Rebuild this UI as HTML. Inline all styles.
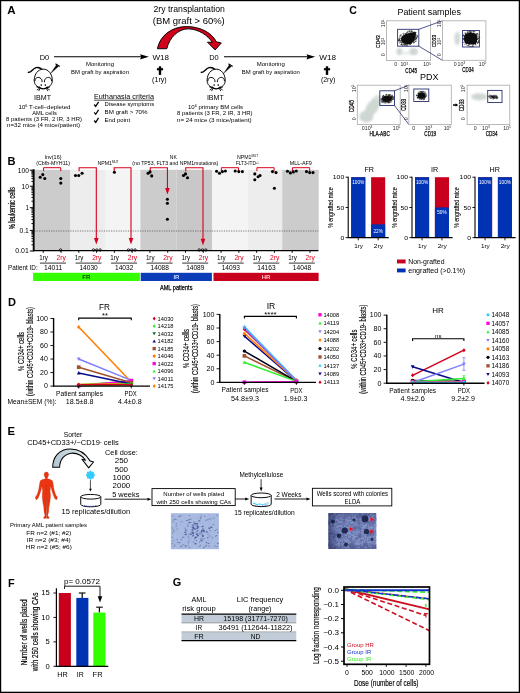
<!DOCTYPE html>
<html><head><meta charset="utf-8"><title>Figure</title>
<style>
html,body{margin:0;padding:0;background:#fff;}
body{width:520px;height:693px;overflow:hidden;font-family:"Liberation Sans", sans-serif;}
svg{display:block;font-family:"Liberation Sans", sans-serif;opacity:0.999;}
svg text{font-family:"Liberation Sans", sans-serif;}
</style></head><body>
<svg width="520" height="693" viewBox="0 0 520 693">
<rect x="0" y="0" width="520" height="693" fill="#fff"/>
<g id="panelA">
<text transform="translate(11.50,13.87) scale(1.02,1)" x="0" y="0" font-size="11.3" text-anchor="middle" fill="#000" font-weight="bold" >A</text>
<text x="189.20" y="12.02" font-size="8.4" text-anchor="middle" fill="#000" font-weight="normal"  textLength="71.50" lengthAdjust="spacingAndGlyphs">2ry transplantation</text>
<text x="188.80" y="23.52" font-size="8.4" text-anchor="middle" fill="#000" font-weight="normal"  textLength="72.00" lengthAdjust="spacingAndGlyphs">(BM graft &gt; 60%)</text>
<text x="44.40" y="59.64" font-size="7.6" text-anchor="middle" fill="#000" font-weight="normal"  textLength="9.50" lengthAdjust="spacingAndGlyphs">D0</text>
<line x1="54.00" y1="56.80" x2="143.00" y2="56.80" stroke="#000" stroke-width="1.1" />
<path d="M148.8,56.8 L140.0,54.2 L141.2,56.8 L140.0,59.4 Z" fill="#000" stroke="none" stroke-width="1" />
<text x="160.70" y="59.64" font-size="7.6" text-anchor="middle" fill="#000" font-weight="normal"  textLength="16.50" lengthAdjust="spacingAndGlyphs">W18</text>
<text x="100.00" y="66.28" font-size="5.5" text-anchor="middle" fill="#000" font-weight="normal"  textLength="28.00" lengthAdjust="spacingAndGlyphs">Monitoring</text>
<text x="100.00" y="73.58" font-size="5.5" text-anchor="middle" fill="#000" font-weight="normal"  textLength="58.00" lengthAdjust="spacingAndGlyphs">BM graft by aspiration</text>
<rect x="158.80" y="66.30" width="2.40" height="8.60" fill="#000" stroke="none" stroke-width="1" />
<rect x="156.90" y="68.20" width="6.20" height="2.10" fill="#000" stroke="none" stroke-width="1" />
<text x="159.40" y="82.42" font-size="7.0" text-anchor="middle" fill="#000" font-weight="normal"  textLength="14.60" lengthAdjust="spacingAndGlyphs">(1ry)</text>
<text x="214.00" y="59.64" font-size="7.6" text-anchor="middle" fill="#000" font-weight="normal"  textLength="9.50" lengthAdjust="spacingAndGlyphs">D0</text>
<line x1="224.00" y1="56.80" x2="310.00" y2="56.80" stroke="#000" stroke-width="1.1" />
<path d="M315.2,56.8 L306.4,54.2 L307.6,56.8 L306.4,59.4 Z" fill="#000" stroke="none" stroke-width="1" />
<text x="327.60" y="59.64" font-size="7.6" text-anchor="middle" fill="#000" font-weight="normal"  textLength="16.80" lengthAdjust="spacingAndGlyphs">W18</text>
<text x="270.80" y="66.28" font-size="5.5" text-anchor="middle" fill="#000" font-weight="normal"  textLength="28.00" lengthAdjust="spacingAndGlyphs">Monitoring</text>
<text x="270.80" y="73.58" font-size="5.5" text-anchor="middle" fill="#000" font-weight="normal"  textLength="58.00" lengthAdjust="spacingAndGlyphs">BM graft by aspiration</text>
<rect x="325.80" y="66.30" width="2.40" height="8.60" fill="#000" stroke="none" stroke-width="1" />
<rect x="323.90" y="68.20" width="6.20" height="2.10" fill="#000" stroke="none" stroke-width="1" />
<text x="328.10" y="82.32" font-size="7.0" text-anchor="middle" fill="#000" font-weight="normal"  textLength="14.40" lengthAdjust="spacingAndGlyphs">(2ry)</text>
<g transform="translate(145,20) scale(0.17307)">
<path d="M72,166 C84,96 150,38 240,38 C322,38 388,76 412,126 L441,133 L405,173 L361,128 L389,129 C362,88 312,54 250,51 C192,52 142,100 126,166 Z" fill="#d0021b" stroke="#000" stroke-width="5.5" stroke-linejoin="round"/>
</g>
<g transform="translate(25,55) scale(0.09615)" fill="none" stroke="#000" stroke-width="10" stroke-linecap="round" stroke-linejoin="round">
<path d="M35,180 C62,188 80,142 115,131 C142,124 162,136 178,152" stroke-width="15"/>
<path d="M146,336 C108,322 95,295 96,258 C98,200 135,147 190,147 C245,147 282,200 284,258 C285,295 272,322 234,336" fill="#fff"/>
<path d="M104,272 C102,240 130,224 156,238 C174,248 180,264 177,282" stroke-linecap="butt"/>
<path d="M276,272 C278,240 250,224 224,238 C206,248 200,264 203,282" stroke-linecap="butt"/>
<circle cx="169" cy="313" r="8.5" fill="#000" stroke="none"/>
<circle cx="211" cy="313" r="8.5" fill="#000" stroke="none"/>
<path d="M150,334 C165,358 215,358 230,334" stroke-width="13"/>
<path d="M150,342 L122,332 M150,346 L126,362 M156,350 L144,372 M230,342 L258,332 M230,346 L254,362 M224,350 L236,372" stroke-width="9"/>
<path d="M266,192 L328,101 L349,116 Z" fill="#000" stroke-width="3"/>
<path d="M320,93 L359,116" stroke-width="11"/>
</g>
<g transform="translate(197.9,55) scale(0.09615)" fill="none" stroke="#000" stroke-width="10" stroke-linecap="round" stroke-linejoin="round">
<path d="M35,180 C62,188 80,142 115,131 C142,124 162,136 178,152" stroke-width="15"/>
<path d="M146,336 C108,322 95,295 96,258 C98,200 135,147 190,147 C245,147 282,200 284,258 C285,295 272,322 234,336" fill="#fff"/>
<path d="M104,272 C102,240 130,224 156,238 C174,248 180,264 177,282" stroke-linecap="butt"/>
<path d="M276,272 C278,240 250,224 224,238 C206,248 200,264 203,282" stroke-linecap="butt"/>
<circle cx="169" cy="313" r="8.5" fill="#000" stroke="none"/>
<circle cx="211" cy="313" r="8.5" fill="#000" stroke="none"/>
<path d="M150,334 C165,358 215,358 230,334" stroke-width="13"/>
<path d="M150,342 L122,332 M150,346 L126,362 M156,350 L144,372 M230,342 L258,332 M230,346 L254,362 M224,350 L236,372" stroke-width="9"/>
<path d="M266,192 L328,101 L349,116 Z" fill="#000" stroke-width="3"/>
<path d="M320,93 L359,116" stroke-width="11"/>
</g>
<text x="42.50" y="99.52" font-size="7" text-anchor="middle" fill="#000" font-weight="normal"  textLength="17.00" lengthAdjust="spacingAndGlyphs">IBMT</text>
<text x="44.50" y="108.98" font-size="5.5" text-anchor="middle" fill="#000" font-weight="normal"  textLength="52.00" lengthAdjust="spacingAndGlyphs">10<tspan font-size="3.4" dy="-2.2">6</tspan><tspan dy="2.2"> T-cell&#8211;depleted</tspan></text>
<text x="44.50" y="115.28" font-size="5.5" text-anchor="middle" fill="#000" font-weight="normal"  textLength="24.50" lengthAdjust="spacingAndGlyphs">AML cells</text>
<text x="44.00" y="121.28" font-size="5.5" text-anchor="middle" fill="#000" font-weight="normal"  textLength="76.00" lengthAdjust="spacingAndGlyphs">8 patients (3 FR, 2 IR, 3 HR)</text>
<text x="43.50" y="127.18" font-size="5.5" text-anchor="middle" fill="#000" font-weight="normal"  textLength="73.00" lengthAdjust="spacingAndGlyphs">n=32 mice (4 mice/patient)</text>
<text x="215.40" y="99.52" font-size="7" text-anchor="middle" fill="#000" font-weight="normal"  textLength="17.00" lengthAdjust="spacingAndGlyphs">IBMT</text>
<text x="215.50" y="108.98" font-size="5.5" text-anchor="middle" fill="#000" font-weight="normal"  textLength="55.00" lengthAdjust="spacingAndGlyphs">10<tspan font-size="3.4" dy="-2.2">6</tspan><tspan dy="2.2"> primary BM cells</tspan></text>
<text x="214.80" y="115.08" font-size="5.5" text-anchor="middle" fill="#000" font-weight="normal"  textLength="75.50" lengthAdjust="spacingAndGlyphs">8 patients (3 FR, 2 IR, 3 HR)</text>
<text x="214.30" y="121.78" font-size="5.5" text-anchor="middle" fill="#000" font-weight="normal"  textLength="74.50" lengthAdjust="spacingAndGlyphs">n= 24 mice (3 mice/patient)</text>
<text x="124.00" y="98.68" font-size="6.9" text-anchor="middle" fill="#000" font-weight="normal"  textLength="60.00" lengthAdjust="spacingAndGlyphs">Euthanasia criteria</text>
<line x1="94.00" y1="100.20" x2="154.00" y2="100.20" stroke="#000" stroke-width="0.7" />
<path d="M94.2,104.5 l1.5,1.9 l2.9,-4.5" fill="none" stroke="#000" stroke-width="1.25" />
<text x="104.60" y="106.28" font-size="5.5" text-anchor="start" fill="#000" font-weight="normal"  textLength="49.50" lengthAdjust="spacingAndGlyphs">Disease symptoms</text>
<path d="M94.2,112.4 l1.5,1.9 l2.9,-4.5" fill="none" stroke="#000" stroke-width="1.25" />
<text x="104.60" y="114.18" font-size="5.5" text-anchor="start" fill="#000" font-weight="normal"  textLength="43.00" lengthAdjust="spacingAndGlyphs">BM graft &gt; 70%</text>
<path d="M94.2,120.5 l1.5,1.9 l2.9,-4.5" fill="none" stroke="#000" stroke-width="1.25" />
<text x="104.60" y="122.28" font-size="5.5" text-anchor="start" fill="#000" font-weight="normal"  textLength="25.50" lengthAdjust="spacingAndGlyphs">End point</text>
</g>
<g id="panelB">
<text transform="translate(11.50,164.97) scale(0.98,1)" x="0" y="0" font-size="11.3" text-anchor="middle" fill="#000" font-weight="bold" >B</text>
<rect x="34.40" y="169.80" width="36.05" height="80.80" fill="#cccccc" stroke="none" stroke-width="1" />
<rect x="70.40" y="169.80" width="35.35" height="80.80" fill="#ededed" stroke="none" stroke-width="1" />
<rect x="105.70" y="169.80" width="34.75" height="80.80" fill="#f4f4f4" stroke="none" stroke-width="1" />
<rect x="140.40" y="169.80" width="36.25" height="80.80" fill="#cccccc" stroke="none" stroke-width="1" />
<rect x="176.60" y="169.80" width="35.65" height="80.80" fill="#c8c8c8" stroke="none" stroke-width="1" />
<rect x="212.20" y="169.80" width="35.45" height="80.80" fill="#f4f4f4" stroke="none" stroke-width="1" />
<rect x="247.60" y="169.80" width="34.65" height="80.80" fill="#ededed" stroke="none" stroke-width="1" />
<rect x="282.20" y="169.80" width="36.55" height="80.80" fill="#cccccc" stroke="none" stroke-width="1" />
<line x1="34.30" y1="231.00" x2="318.40" y2="231.00" stroke="#444" stroke-width="0.7" stroke-dasharray="1.2,1.2"/>
<line x1="33.70" y1="169.30" x2="33.70" y2="251.20" stroke="#000" stroke-width="1.9" />
<line x1="33.20" y1="250.60" x2="318.40" y2="250.60" stroke="#000" stroke-width="1.4" />
<line x1="29.80" y1="170.20" x2="33.90" y2="170.20" stroke="#000" stroke-width="1.0" />
<text x="28.90" y="172.58" font-size="6.6" text-anchor="end" fill="#000" font-weight="normal"  textLength="11.12" lengthAdjust="spacingAndGlyphs">100</text>
<line x1="29.80" y1="186.20" x2="33.90" y2="186.20" stroke="#000" stroke-width="1.0" />
<text x="28.90" y="188.58" font-size="6.6" text-anchor="end" fill="#000" font-weight="normal"  textLength="7.42" lengthAdjust="spacingAndGlyphs">10</text>
<line x1="29.80" y1="207.70" x2="33.90" y2="207.70" stroke="#000" stroke-width="1.0" />
<text x="28.90" y="210.08" font-size="6.6" text-anchor="end" fill="#000" font-weight="normal"  textLength="3.50" lengthAdjust="spacingAndGlyphs">1</text>
<line x1="29.80" y1="230.40" x2="33.90" y2="230.40" stroke="#000" stroke-width="1.0" />
<text x="28.90" y="232.78" font-size="6.6" text-anchor="end" fill="#000" font-weight="normal"  textLength="9.48" lengthAdjust="spacingAndGlyphs">0.1</text>
<line x1="29.80" y1="251.00" x2="33.90" y2="251.00" stroke="#000" stroke-width="1.0" />
<text x="28.90" y="253.38" font-size="6.6" text-anchor="end" fill="#000" font-weight="normal"  textLength="13.60" lengthAdjust="spacingAndGlyphs">0.01</text>
<line x1="31.40" y1="181.38" x2="33.90" y2="181.38" stroke="#000" stroke-width="0.9" />
<line x1="31.40" y1="178.57" x2="33.90" y2="178.57" stroke="#000" stroke-width="0.9" />
<line x1="31.40" y1="176.57" x2="33.90" y2="176.57" stroke="#000" stroke-width="0.9" />
<line x1="31.40" y1="175.02" x2="33.90" y2="175.02" stroke="#000" stroke-width="0.9" />
<line x1="31.40" y1="173.75" x2="33.90" y2="173.75" stroke="#000" stroke-width="0.9" />
<line x1="31.40" y1="172.68" x2="33.90" y2="172.68" stroke="#000" stroke-width="0.9" />
<line x1="31.40" y1="171.75" x2="33.90" y2="171.75" stroke="#000" stroke-width="0.9" />
<line x1="31.40" y1="170.93" x2="33.90" y2="170.93" stroke="#000" stroke-width="0.9" />
<line x1="31.40" y1="201.23" x2="33.90" y2="201.23" stroke="#000" stroke-width="0.9" />
<line x1="31.40" y1="197.44" x2="33.90" y2="197.44" stroke="#000" stroke-width="0.9" />
<line x1="31.40" y1="194.76" x2="33.90" y2="194.76" stroke="#000" stroke-width="0.9" />
<line x1="31.40" y1="192.67" x2="33.90" y2="192.67" stroke="#000" stroke-width="0.9" />
<line x1="31.40" y1="190.97" x2="33.90" y2="190.97" stroke="#000" stroke-width="0.9" />
<line x1="31.40" y1="189.53" x2="33.90" y2="189.53" stroke="#000" stroke-width="0.9" />
<line x1="31.40" y1="188.28" x2="33.90" y2="188.28" stroke="#000" stroke-width="0.9" />
<line x1="31.40" y1="187.18" x2="33.90" y2="187.18" stroke="#000" stroke-width="0.9" />
<line x1="31.40" y1="223.57" x2="33.90" y2="223.57" stroke="#000" stroke-width="0.9" />
<line x1="31.40" y1="219.57" x2="33.90" y2="219.57" stroke="#000" stroke-width="0.9" />
<line x1="31.40" y1="216.73" x2="33.90" y2="216.73" stroke="#000" stroke-width="0.9" />
<line x1="31.40" y1="214.53" x2="33.90" y2="214.53" stroke="#000" stroke-width="0.9" />
<line x1="31.40" y1="212.74" x2="33.90" y2="212.74" stroke="#000" stroke-width="0.9" />
<line x1="31.40" y1="211.22" x2="33.90" y2="211.22" stroke="#000" stroke-width="0.9" />
<line x1="31.40" y1="209.90" x2="33.90" y2="209.90" stroke="#000" stroke-width="0.9" />
<line x1="31.40" y1="208.74" x2="33.90" y2="208.74" stroke="#000" stroke-width="0.9" />
<line x1="31.40" y1="244.80" x2="33.90" y2="244.80" stroke="#000" stroke-width="0.9" />
<line x1="31.40" y1="241.17" x2="33.90" y2="241.17" stroke="#000" stroke-width="0.9" />
<line x1="31.40" y1="238.60" x2="33.90" y2="238.60" stroke="#000" stroke-width="0.9" />
<line x1="31.40" y1="236.60" x2="33.90" y2="236.60" stroke="#000" stroke-width="0.9" />
<line x1="31.40" y1="234.97" x2="33.90" y2="234.97" stroke="#000" stroke-width="0.9" />
<line x1="31.40" y1="233.59" x2="33.90" y2="233.59" stroke="#000" stroke-width="0.9" />
<line x1="31.40" y1="232.40" x2="33.90" y2="232.40" stroke="#000" stroke-width="0.9" />
<line x1="31.40" y1="231.34" x2="33.90" y2="231.34" stroke="#000" stroke-width="0.9" />
<text transform="translate(12.20,208.20) rotate(-90)" x="0" y="2.99" font-size="8.3" text-anchor="middle" fill="#000" font-weight="normal" stroke="#000" stroke-width="0.2" textLength="42.20" lengthAdjust="spacingAndGlyphs">% leukemic cells</text>
<line x1="43.25" y1="250.60" x2="43.25" y2="252.90" stroke="#000" stroke-width="0.9" />
<line x1="61.05" y1="250.60" x2="61.05" y2="252.90" stroke="#000" stroke-width="0.9" />
<text x="43.55" y="260.20" font-size="6.4" text-anchor="middle" fill="#000" font-weight="normal"  textLength="8.60" lengthAdjust="spacingAndGlyphs">1ry</text>
<text x="61.25" y="260.20" font-size="6.4" text-anchor="middle" fill="#e0001a" font-weight="normal"  textLength="9.30" lengthAdjust="spacingAndGlyphs">2ry</text>
<line x1="39.95" y1="263.10" x2="65.95" y2="263.10" stroke="#000" stroke-width="0.8" />
<text x="53.05" y="269.98" font-size="6.6" text-anchor="middle" fill="#000" font-weight="normal"  textLength="18.30" lengthAdjust="spacingAndGlyphs">14011</text>
<line x1="78.81" y1="250.60" x2="78.81" y2="252.90" stroke="#000" stroke-width="0.9" />
<line x1="96.61" y1="250.60" x2="96.61" y2="252.90" stroke="#000" stroke-width="0.9" />
<text x="79.11" y="260.20" font-size="6.4" text-anchor="middle" fill="#000" font-weight="normal"  textLength="8.60" lengthAdjust="spacingAndGlyphs">1ry</text>
<text x="96.81" y="260.20" font-size="6.4" text-anchor="middle" fill="#e0001a" font-weight="normal"  textLength="9.30" lengthAdjust="spacingAndGlyphs">2ry</text>
<line x1="75.51" y1="263.10" x2="101.51" y2="263.10" stroke="#000" stroke-width="0.8" />
<text x="88.61" y="269.98" font-size="6.6" text-anchor="middle" fill="#000" font-weight="normal"  textLength="18.30" lengthAdjust="spacingAndGlyphs">14030</text>
<line x1="114.37" y1="250.60" x2="114.37" y2="252.90" stroke="#000" stroke-width="0.9" />
<line x1="132.17" y1="250.60" x2="132.17" y2="252.90" stroke="#000" stroke-width="0.9" />
<text x="114.67" y="260.20" font-size="6.4" text-anchor="middle" fill="#000" font-weight="normal"  textLength="8.60" lengthAdjust="spacingAndGlyphs">1ry</text>
<text x="132.37" y="260.20" font-size="6.4" text-anchor="middle" fill="#e0001a" font-weight="normal"  textLength="9.30" lengthAdjust="spacingAndGlyphs">2ry</text>
<line x1="111.07" y1="263.10" x2="137.07" y2="263.10" stroke="#000" stroke-width="0.8" />
<text x="124.17" y="269.98" font-size="6.6" text-anchor="middle" fill="#000" font-weight="normal"  textLength="18.30" lengthAdjust="spacingAndGlyphs">14032</text>
<line x1="149.93" y1="250.60" x2="149.93" y2="252.90" stroke="#000" stroke-width="0.9" />
<line x1="167.73" y1="250.60" x2="167.73" y2="252.90" stroke="#000" stroke-width="0.9" />
<text x="150.23" y="260.20" font-size="6.4" text-anchor="middle" fill="#000" font-weight="normal"  textLength="8.60" lengthAdjust="spacingAndGlyphs">1ry</text>
<text x="167.93" y="260.20" font-size="6.4" text-anchor="middle" fill="#e0001a" font-weight="normal"  textLength="9.30" lengthAdjust="spacingAndGlyphs">2ry</text>
<line x1="146.63" y1="263.10" x2="172.63" y2="263.10" stroke="#000" stroke-width="0.8" />
<text x="159.73" y="269.98" font-size="6.6" text-anchor="middle" fill="#000" font-weight="normal"  textLength="18.30" lengthAdjust="spacingAndGlyphs">14088</text>
<line x1="185.49" y1="250.60" x2="185.49" y2="252.90" stroke="#000" stroke-width="0.9" />
<line x1="203.29" y1="250.60" x2="203.29" y2="252.90" stroke="#000" stroke-width="0.9" />
<text x="185.79" y="260.20" font-size="6.4" text-anchor="middle" fill="#000" font-weight="normal"  textLength="8.60" lengthAdjust="spacingAndGlyphs">1ry</text>
<text x="203.49" y="260.20" font-size="6.4" text-anchor="middle" fill="#e0001a" font-weight="normal"  textLength="9.30" lengthAdjust="spacingAndGlyphs">2ry</text>
<line x1="182.19" y1="263.10" x2="208.19" y2="263.10" stroke="#000" stroke-width="0.8" />
<text x="195.29" y="269.98" font-size="6.6" text-anchor="middle" fill="#000" font-weight="normal"  textLength="18.30" lengthAdjust="spacingAndGlyphs">14089</text>
<line x1="221.05" y1="250.60" x2="221.05" y2="252.90" stroke="#000" stroke-width="0.9" />
<line x1="238.85" y1="250.60" x2="238.85" y2="252.90" stroke="#000" stroke-width="0.9" />
<text x="221.35" y="260.20" font-size="6.4" text-anchor="middle" fill="#000" font-weight="normal"  textLength="8.60" lengthAdjust="spacingAndGlyphs">1ry</text>
<text x="239.05" y="260.20" font-size="6.4" text-anchor="middle" fill="#e0001a" font-weight="normal"  textLength="9.30" lengthAdjust="spacingAndGlyphs">2ry</text>
<line x1="217.75" y1="263.10" x2="243.75" y2="263.10" stroke="#000" stroke-width="0.8" />
<text x="230.85" y="269.98" font-size="6.6" text-anchor="middle" fill="#000" font-weight="normal"  textLength="18.30" lengthAdjust="spacingAndGlyphs">14093</text>
<line x1="256.61" y1="250.60" x2="256.61" y2="252.90" stroke="#000" stroke-width="0.9" />
<line x1="274.41" y1="250.60" x2="274.41" y2="252.90" stroke="#000" stroke-width="0.9" />
<text x="256.91" y="260.20" font-size="6.4" text-anchor="middle" fill="#000" font-weight="normal"  textLength="8.60" lengthAdjust="spacingAndGlyphs">1ry</text>
<text x="274.61" y="260.20" font-size="6.4" text-anchor="middle" fill="#e0001a" font-weight="normal"  textLength="9.30" lengthAdjust="spacingAndGlyphs">2ry</text>
<line x1="253.31" y1="263.10" x2="279.31" y2="263.10" stroke="#000" stroke-width="0.8" />
<text x="266.41" y="269.98" font-size="6.6" text-anchor="middle" fill="#000" font-weight="normal"  textLength="18.30" lengthAdjust="spacingAndGlyphs">14163</text>
<line x1="292.17" y1="250.60" x2="292.17" y2="252.90" stroke="#000" stroke-width="0.9" />
<line x1="309.97" y1="250.60" x2="309.97" y2="252.90" stroke="#000" stroke-width="0.9" />
<text x="292.47" y="260.20" font-size="6.4" text-anchor="middle" fill="#000" font-weight="normal"  textLength="8.60" lengthAdjust="spacingAndGlyphs">1ry</text>
<text x="310.17" y="260.20" font-size="6.4" text-anchor="middle" fill="#e0001a" font-weight="normal"  textLength="9.30" lengthAdjust="spacingAndGlyphs">2ry</text>
<line x1="288.87" y1="263.10" x2="314.87" y2="263.10" stroke="#000" stroke-width="0.8" />
<text x="301.97" y="269.98" font-size="6.6" text-anchor="middle" fill="#000" font-weight="normal"  textLength="18.30" lengthAdjust="spacingAndGlyphs">14048</text>
<text x="22.80" y="269.98" font-size="6.6" text-anchor="middle" fill="#000" font-weight="normal"  textLength="29.80" lengthAdjust="spacingAndGlyphs">Patient ID:</text>
<rect x="33.10" y="272.80" width="106.80" height="8.20" fill="#33ff00" stroke="none" stroke-width="1" />
<rect x="140.70" y="272.80" width="71.20" height="8.20" fill="#0b3db8" stroke="none" stroke-width="1" />
<rect x="213.50" y="272.80" width="105.10" height="8.20" fill="#c8001e" stroke="none" stroke-width="1" />
<text x="86.30" y="279.16" font-size="6.0" text-anchor="middle" fill="#0a4a0a" font-weight="bold" >FR</text>
<text x="176.40" y="279.16" font-size="6.0" text-anchor="middle" fill="#c9d6ff" font-weight="bold" >IR</text>
<text x="266.00" y="279.16" font-size="6.0" text-anchor="middle" fill="#ffc4c4" font-weight="bold" >HR</text>
<text x="176.20" y="290.19" font-size="7.2" text-anchor="middle" fill="#000" font-weight="normal" stroke="#000" stroke-width="0.25" textLength="32.50" lengthAdjust="spacingAndGlyphs">AML patients</text>
<text x="53.00" y="159.06" font-size="4.9" text-anchor="middle" fill="#000" font-weight="normal"  textLength="17.00" lengthAdjust="spacingAndGlyphs">Inv(16)</text>
<text x="53.10" y="165.36" font-size="4.9" text-anchor="middle" fill="#000" font-weight="normal"  textLength="33.80" lengthAdjust="spacingAndGlyphs">(Cbfb-MYH11)</text>
<text x="107.90" y="164.96" font-size="4.9" text-anchor="middle" fill="#000" font-weight="normal"  textLength="21.00" lengthAdjust="spacingAndGlyphs">NPM1<tspan font-size="2.8" dy="-1.6">MUT</tspan></text>
<text x="173.30" y="159.06" font-size="4.9" text-anchor="middle" fill="#000" font-weight="normal"  textLength="7.00" lengthAdjust="spacingAndGlyphs">NK</text>
<text x="175.30" y="165.36" font-size="4.9" text-anchor="middle" fill="#000" font-weight="normal"  textLength="86.00" lengthAdjust="spacingAndGlyphs">(no TP53, FLT3 and NPM1mutations)</text>
<text x="247.50" y="159.06" font-size="4.9" text-anchor="middle" fill="#000" font-weight="normal"  textLength="21.00" lengthAdjust="spacingAndGlyphs">NPM1<tspan font-size="2.8" dy="-1.6">MUT</tspan></text>
<text x="247.50" y="165.36" font-size="4.9" text-anchor="middle" fill="#000" font-weight="normal"  textLength="23.20" lengthAdjust="spacingAndGlyphs">FLT3-ITD<tspan font-size="2.8" dy="-1.6">+/-</tspan></text>
<text x="300.80" y="165.16" font-size="4.9" text-anchor="middle" fill="#000" font-weight="normal"  textLength="22.20" lengthAdjust="spacingAndGlyphs">MLL-AF9</text>
<path d="M43.55,171.2 L43.55,167.7 L60.75,167.7 L60.75,171.2" fill="none" stroke="#d8001c" stroke-width="1.0" />
<path d="M79.11,171.2 L79.11,167.7 L96.31,167.7 L96.31,239.60" fill="none" stroke="#d8001c" stroke-width="1.1" />
<path d="M94.01,238.00 L98.61,238.00 L96.31,244.60 Z" fill="#d8001c" stroke="none" stroke-width="1" />
<path d="M114.20,171.2 L114.20,167.7 L131.00,167.7 L131.00,239.60" fill="none" stroke="#d8001c" stroke-width="1.1" />
<path d="M128.70,238.00 L133.30,238.00 L131.00,244.60 Z" fill="#d8001c" stroke="none" stroke-width="1" />
<path d="M150.23,171.2 L150.23,167.7 L167.43,167.7 L167.43,189.60" fill="none" stroke="#d8001c" stroke-width="1.1" />
<path d="M165.13,188.00 L169.73,188.00 L167.43,194.60 Z" fill="#d8001c" stroke="none" stroke-width="1" />
<path d="M185.79,171.2 L185.79,167.7 L202.99,167.7 L202.99,240.40" fill="none" stroke="#d8001c" stroke-width="1.1" />
<path d="M200.69,238.80 L205.29,238.80 L202.99,245.40 Z" fill="#d8001c" stroke="none" stroke-width="1" />
<path d="M221.35,171.2 L221.35,167.7 L238.55,167.7 L238.55,171.2" fill="none" stroke="#d8001c" stroke-width="1.0" />
<path d="M256.91,171.2 L256.91,167.7 L274.11,167.7 L274.11,171.2" fill="none" stroke="#d8001c" stroke-width="1.0" />
<path d="M292.47,171.2 L292.47,167.7 L309.67,167.7 L309.67,171.2" fill="none" stroke="#d8001c" stroke-width="1.0" />
<circle cx="40.20" cy="177.20" r="1.55" fill="#000" stroke="none" stroke-width="1" />
<circle cx="42.80" cy="174.60" r="1.55" fill="#000" stroke="none" stroke-width="1" />
<circle cx="44.80" cy="178.50" r="1.55" fill="#000" stroke="none" stroke-width="1" />
<circle cx="60.80" cy="178.50" r="1.55" fill="#000" stroke="none" stroke-width="1" />
<circle cx="60.80" cy="183.10" r="1.55" fill="#000" stroke="none" stroke-width="1" />
<circle cx="75.50" cy="175.50" r="1.55" fill="#000" stroke="none" stroke-width="1" />
<circle cx="78.80" cy="175.50" r="1.55" fill="#000" stroke="none" stroke-width="1" />
<circle cx="82.10" cy="173.20" r="1.55" fill="#000" stroke="none" stroke-width="1" />
<circle cx="114.40" cy="172.30" r="1.55" fill="#000" stroke="none" stroke-width="1" />
<circle cx="148.10" cy="173.20" r="1.55" fill="#000" stroke="none" stroke-width="1" />
<circle cx="150.00" cy="171.90" r="1.55" fill="#000" stroke="none" stroke-width="1" />
<circle cx="151.70" cy="175.90" r="1.55" fill="#000" stroke="none" stroke-width="1" />
<circle cx="167.40" cy="199.20" r="1.55" fill="#000" stroke="none" stroke-width="1" />
<circle cx="167.40" cy="203.20" r="1.55" fill="#000" stroke="none" stroke-width="1" />
<circle cx="167.40" cy="219.30" r="1.55" fill="#000" stroke="none" stroke-width="1" />
<circle cx="183.50" cy="175.50" r="1.55" fill="#000" stroke="none" stroke-width="1" />
<circle cx="185.50" cy="173.90" r="1.55" fill="#000" stroke="none" stroke-width="1" />
<circle cx="187.50" cy="177.80" r="1.55" fill="#000" stroke="none" stroke-width="1" />
<circle cx="216.60" cy="171.30" r="1.55" fill="#000" stroke="none" stroke-width="1" />
<circle cx="219.50" cy="173.20" r="1.55" fill="#000" stroke="none" stroke-width="1" />
<circle cx="222.40" cy="171.60" r="1.55" fill="#000" stroke="none" stroke-width="1" />
<circle cx="225.40" cy="171.00" r="1.55" fill="#000" stroke="none" stroke-width="1" />
<circle cx="235.20" cy="171.00" r="1.55" fill="#000" stroke="none" stroke-width="1" />
<circle cx="238.80" cy="171.60" r="1.55" fill="#000" stroke="none" stroke-width="1" />
<circle cx="242.40" cy="171.60" r="1.55" fill="#000" stroke="none" stroke-width="1" />
<circle cx="254.80" cy="173.90" r="1.55" fill="#000" stroke="none" stroke-width="1" />
<circle cx="254.80" cy="179.80" r="1.55" fill="#000" stroke="none" stroke-width="1" />
<circle cx="258.10" cy="176.80" r="1.55" fill="#000" stroke="none" stroke-width="1" />
<circle cx="260.00" cy="175.50" r="1.55" fill="#000" stroke="none" stroke-width="1" />
<circle cx="272.50" cy="171.60" r="1.55" fill="#000" stroke="none" stroke-width="1" />
<circle cx="276.00" cy="172.60" r="1.55" fill="#000" stroke="none" stroke-width="1" />
<circle cx="274.40" cy="188.30" r="1.55" fill="#000" stroke="none" stroke-width="1" />
<circle cx="287.50" cy="171.30" r="1.55" fill="#000" stroke="none" stroke-width="1" />
<circle cx="290.40" cy="172.90" r="1.55" fill="#000" stroke="none" stroke-width="1" />
<circle cx="293.40" cy="171.90" r="1.55" fill="#000" stroke="none" stroke-width="1" />
<circle cx="296.30" cy="171.00" r="1.55" fill="#000" stroke="none" stroke-width="1" />
<circle cx="306.50" cy="171.60" r="1.55" fill="#000" stroke="none" stroke-width="1" />
<circle cx="309.70" cy="172.60" r="1.55" fill="#000" stroke="none" stroke-width="1" />
<circle cx="313.00" cy="172.60" r="1.55" fill="#000" stroke="none" stroke-width="1" />
<circle cx="60.60" cy="250.00" r="1.2" fill="none" stroke="#000" stroke-width="0.8" />
<circle cx="93.50" cy="250.00" r="1.2" fill="none" stroke="#000" stroke-width="0.8" />
<circle cx="96.80" cy="250.00" r="1.2" fill="none" stroke="#000" stroke-width="0.8" />
<circle cx="100.10" cy="250.00" r="1.2" fill="none" stroke="#000" stroke-width="0.8" />
<circle cx="128.50" cy="250.00" r="1.2" fill="none" stroke="#000" stroke-width="0.8" />
<circle cx="131.80" cy="250.00" r="1.2" fill="none" stroke="#000" stroke-width="0.8" />
<circle cx="135.10" cy="250.00" r="1.2" fill="none" stroke="#000" stroke-width="0.8" />
<circle cx="199.20" cy="250.00" r="1.2" fill="none" stroke="#000" stroke-width="0.8" />
<circle cx="202.50" cy="250.00" r="1.2" fill="none" stroke="#000" stroke-width="0.8" />
<circle cx="205.80" cy="250.00" r="1.2" fill="none" stroke="#000" stroke-width="0.8" />
</g>
<g id="panelBbars">
<text x="369.20" y="172.29" font-size="7.2" text-anchor="middle" fill="#000" font-weight="normal" >FR</text>
<rect x="351.20" y="177.20" width="14.10" height="60.40" fill="#c9001d" stroke="none" stroke-width="1" />
<rect x="351.20" y="177.20" width="14.10" height="60.40" fill="#0033b4" stroke="none" stroke-width="1" />
<text x="358.25" y="183.69" font-size="4.7" text-anchor="middle" fill="#fff" font-weight="normal"  textLength="12.20" lengthAdjust="spacingAndGlyphs">100%</text>
<rect x="371.10" y="177.20" width="14.10" height="60.40" fill="#c9001d" stroke="none" stroke-width="1" />
<rect x="371.10" y="224.31" width="14.10" height="13.29" fill="#0033b4" stroke="none" stroke-width="1" />
<text x="378.15" y="232.60" font-size="4.7" text-anchor="middle" fill="#fff" font-weight="normal"  textLength="9.40" lengthAdjust="spacingAndGlyphs">22%</text>
<line x1="348.20" y1="176.80" x2="348.20" y2="238.10" stroke="#000" stroke-width="1.1" />
<line x1="347.70" y1="237.60" x2="388.80" y2="237.60" stroke="#000" stroke-width="1.1" />
<line x1="345.60" y1="177.20" x2="348.20" y2="177.20" stroke="#000" stroke-width="0.9" />
<text x="344.20" y="179.43" font-size="6.2" text-anchor="end" fill="#000" font-weight="normal"  textLength="11.40" lengthAdjust="spacingAndGlyphs">100</text>
<line x1="345.60" y1="207.50" x2="348.20" y2="207.50" stroke="#000" stroke-width="0.9" />
<text x="344.20" y="209.73" font-size="6.2" text-anchor="end" fill="#000" font-weight="normal"  textLength="7.60" lengthAdjust="spacingAndGlyphs">50</text>
<line x1="345.60" y1="237.60" x2="348.20" y2="237.60" stroke="#000" stroke-width="0.9" />
<text x="344.20" y="239.83" font-size="6.2" text-anchor="end" fill="#000" font-weight="normal"  textLength="3.80" lengthAdjust="spacingAndGlyphs">0</text>
<line x1="358.25" y1="237.60" x2="358.25" y2="240.30" stroke="#000" stroke-width="0.9" />
<line x1="378.15" y1="237.60" x2="378.15" y2="240.30" stroke="#000" stroke-width="0.9" />
<text x="358.55" y="247.53" font-size="6.2" text-anchor="middle" fill="#000" font-weight="normal"  textLength="8.80" lengthAdjust="spacingAndGlyphs">1ry</text>
<text x="378.45" y="247.53" font-size="6.2" text-anchor="middle" fill="#000" font-weight="normal"  textLength="9.20" lengthAdjust="spacingAndGlyphs">2ry</text>
<text transform="translate(330.70,207.60) rotate(-90)" x="0" y="2.45" font-size="6.8" text-anchor="middle" fill="#000" font-weight="normal" stroke="#000" stroke-width="0.12" textLength="40.40" lengthAdjust="spacingAndGlyphs">% engrafted mice</text>
<text x="434.50" y="172.29" font-size="7.2" text-anchor="middle" fill="#000" font-weight="normal" >IR</text>
<rect x="415.00" y="177.20" width="14.10" height="60.40" fill="#c9001d" stroke="none" stroke-width="1" />
<rect x="415.00" y="177.20" width="14.10" height="60.40" fill="#0033b4" stroke="none" stroke-width="1" />
<text x="422.05" y="183.69" font-size="4.7" text-anchor="middle" fill="#fff" font-weight="normal"  textLength="12.20" lengthAdjust="spacingAndGlyphs">100%</text>
<rect x="434.90" y="177.20" width="14.10" height="60.40" fill="#c9001d" stroke="none" stroke-width="1" />
<rect x="434.90" y="207.40" width="14.10" height="30.20" fill="#0033b4" stroke="none" stroke-width="1" />
<text x="441.95" y="213.99" font-size="4.7" text-anchor="middle" fill="#fff" font-weight="normal"  textLength="9.40" lengthAdjust="spacingAndGlyphs">50%</text>
<line x1="412.00" y1="176.80" x2="412.00" y2="238.10" stroke="#000" stroke-width="1.1" />
<line x1="411.50" y1="237.60" x2="452.60" y2="237.60" stroke="#000" stroke-width="1.1" />
<line x1="409.40" y1="177.20" x2="412.00" y2="177.20" stroke="#000" stroke-width="0.9" />
<text x="408.00" y="179.43" font-size="6.2" text-anchor="end" fill="#000" font-weight="normal"  textLength="11.40" lengthAdjust="spacingAndGlyphs">100</text>
<line x1="409.40" y1="207.50" x2="412.00" y2="207.50" stroke="#000" stroke-width="0.9" />
<text x="408.00" y="209.73" font-size="6.2" text-anchor="end" fill="#000" font-weight="normal"  textLength="7.60" lengthAdjust="spacingAndGlyphs">50</text>
<line x1="409.40" y1="237.60" x2="412.00" y2="237.60" stroke="#000" stroke-width="0.9" />
<text x="408.00" y="239.83" font-size="6.2" text-anchor="end" fill="#000" font-weight="normal"  textLength="3.80" lengthAdjust="spacingAndGlyphs">0</text>
<line x1="422.05" y1="237.60" x2="422.05" y2="240.30" stroke="#000" stroke-width="0.9" />
<line x1="441.95" y1="237.60" x2="441.95" y2="240.30" stroke="#000" stroke-width="0.9" />
<text x="422.35" y="247.53" font-size="6.2" text-anchor="middle" fill="#000" font-weight="normal"  textLength="8.80" lengthAdjust="spacingAndGlyphs">1ry</text>
<text x="442.25" y="247.53" font-size="6.2" text-anchor="middle" fill="#000" font-weight="normal"  textLength="9.20" lengthAdjust="spacingAndGlyphs">2ry</text>
<text transform="translate(394.40,207.60) rotate(-90)" x="0" y="2.45" font-size="6.8" text-anchor="middle" fill="#000" font-weight="normal" stroke="#000" stroke-width="0.12" textLength="40.40" lengthAdjust="spacingAndGlyphs">% engrafted mice</text>
<text x="494.80" y="172.29" font-size="7.2" text-anchor="middle" fill="#000" font-weight="normal" >HR</text>
<rect x="478.00" y="177.20" width="14.10" height="60.40" fill="#c9001d" stroke="none" stroke-width="1" />
<rect x="478.00" y="177.20" width="14.10" height="60.40" fill="#0033b4" stroke="none" stroke-width="1" />
<text x="485.05" y="183.69" font-size="4.7" text-anchor="middle" fill="#fff" font-weight="normal"  textLength="12.20" lengthAdjust="spacingAndGlyphs">100%</text>
<rect x="497.90" y="177.20" width="14.10" height="60.40" fill="#c9001d" stroke="none" stroke-width="1" />
<rect x="497.90" y="177.20" width="14.10" height="60.40" fill="#0033b4" stroke="none" stroke-width="1" />
<text x="504.95" y="183.69" font-size="4.7" text-anchor="middle" fill="#fff" font-weight="normal"  textLength="12.20" lengthAdjust="spacingAndGlyphs">100%</text>
<line x1="475.00" y1="176.80" x2="475.00" y2="238.10" stroke="#000" stroke-width="1.1" />
<line x1="474.50" y1="237.60" x2="515.60" y2="237.60" stroke="#000" stroke-width="1.1" />
<line x1="472.40" y1="177.20" x2="475.00" y2="177.20" stroke="#000" stroke-width="0.9" />
<text x="471.00" y="179.43" font-size="6.2" text-anchor="end" fill="#000" font-weight="normal"  textLength="11.40" lengthAdjust="spacingAndGlyphs">100</text>
<line x1="472.40" y1="207.50" x2="475.00" y2="207.50" stroke="#000" stroke-width="0.9" />
<text x="471.00" y="209.73" font-size="6.2" text-anchor="end" fill="#000" font-weight="normal"  textLength="7.60" lengthAdjust="spacingAndGlyphs">50</text>
<line x1="472.40" y1="237.60" x2="475.00" y2="237.60" stroke="#000" stroke-width="0.9" />
<text x="471.00" y="239.83" font-size="6.2" text-anchor="end" fill="#000" font-weight="normal"  textLength="3.80" lengthAdjust="spacingAndGlyphs">0</text>
<line x1="485.05" y1="237.60" x2="485.05" y2="240.30" stroke="#000" stroke-width="0.9" />
<line x1="504.95" y1="237.60" x2="504.95" y2="240.30" stroke="#000" stroke-width="0.9" />
<text x="485.35" y="247.53" font-size="6.2" text-anchor="middle" fill="#000" font-weight="normal"  textLength="8.80" lengthAdjust="spacingAndGlyphs">1ry</text>
<text x="505.25" y="247.53" font-size="6.2" text-anchor="middle" fill="#000" font-weight="normal"  textLength="9.20" lengthAdjust="spacingAndGlyphs">2ry</text>
<text transform="translate(456.70,207.60) rotate(-90)" x="0" y="2.45" font-size="6.8" text-anchor="middle" fill="#000" font-weight="normal" stroke="#000" stroke-width="0.12" textLength="40.40" lengthAdjust="spacingAndGlyphs">% engrafted mice</text>
<rect x="397.00" y="259.50" width="8.60" height="3.90" fill="#c9001d" stroke="none" stroke-width="1" />
<text x="408.20" y="264.08" font-size="6.9" text-anchor="start" fill="#000" font-weight="normal"  textLength="36.30" lengthAdjust="spacingAndGlyphs">Non-grafted</text>
<rect x="397.00" y="268.50" width="8.60" height="3.90" fill="#0033b4" stroke="none" stroke-width="1" />
<text x="408.20" y="273.08" font-size="6.9" text-anchor="start" fill="#000" font-weight="normal"  textLength="57.00" lengthAdjust="spacingAndGlyphs">engrafted (&gt;0.1%)</text>
</g>
<g id="panelC">
<defs><filter id="bl1" x="-30%" y="-30%" width="160%" height="160%"><feGaussianBlur stdDeviation="1.0"/></filter><filter id="bl3" x="-30%" y="-30%" width="160%" height="160%"><feGaussianBlur stdDeviation="3"/></filter><filter id="bl2" x="-30%" y="-30%" width="160%" height="160%"><feGaussianBlur stdDeviation="0.45"/></filter></defs>
<text transform="translate(353.00,13.84) scale(0.92,1)" x="0" y="0" font-size="11.5" text-anchor="middle" fill="#000" font-weight="bold" >C</text>
<text x="429.20" y="15.02" font-size="8.4" text-anchor="middle" fill="#000" font-weight="normal"  textLength="63.50" lengthAdjust="spacingAndGlyphs">Patient samples</text>
<text x="429.30" y="80.42" font-size="8.4" text-anchor="middle" fill="#000" font-weight="normal"  textLength="18.50" lengthAdjust="spacingAndGlyphs">PDX</text>
<ellipse cx="399.30" cy="51.60" rx="2.90" ry="3.60" fill="#cfd7d3" opacity="1.0" filter="url(#bl1)" transform="rotate(0 399.3 51.6)"/>
<ellipse cx="413.60" cy="51.60" rx="4.40" ry="3.60" fill="#cfd7d3" opacity="1.0" filter="url(#bl1)" transform="rotate(0 413.6 51.6)"/>
<ellipse cx="405.50" cy="53.00" rx="5.00" ry="1.40" fill="#cfd7d3" opacity="0.5" filter="url(#bl1)" transform="rotate(0 405.5 53.0)"/>
<g transform="translate(370,15) scale(0.13459)">
<path d="M222,188 C224,152 258,137 300,128 L350,117 C354,140 346,172 330,196 C318,216 294,231 268,223 C244,216 224,206 222,188 Z" fill="#080808" filter="url(#bl3)" transform="translate(46,26) scale(0.84)"/>
</g>
<g transform="rotate(-20 408.0 38.6)">
<ellipse cx="408.00" cy="38.60" rx="7.02" ry="5.15" fill="#0a0a0a" filter="url(#bl2)"/>
<path d="M405.3,42.6h.5M404.7,35.2h.5M401.1,37.4h.5M415.3,40.6h.5M415.2,39.9h.5M413.3,40.4h.5M399.8,41.7h.5M412.6,41.9h.5M401.2,33.4h.5M401.6,36.1h.5M413.6,38.0h.5M412.3,34.8h.5M411.7,42.0h.5M404.7,44.9h.5M411.4,44.0h.5M403.4,34.6h.5M402.6,37.4h.5M413.9,40.3h.5M404.9,33.7h.5M404.8,44.1h.5M401.5,40.0h.5M410.4,32.5h.5M408.3,44.5h.5M398.6,37.5h.5M407.1,33.7h.5M413.9,38.1h.5M400.2,41.8h.5M412.4,43.2h.5M416.3,40.1h.5M408.7,32.7h.5M412.9,35.0h.5M405.2,33.0h.5M401.4,35.9h.5M413.3,32.5h.5M399.6,39.6h.5M416.1,41.0h.5M401.9,32.7h.5M410.9,34.2h.5M401.6,42.7h.5M415.5,39.4h.5M410.9,42.4h.5M416.4,41.0h.5M412.5,42.1h.5M400.7,43.0h.5M414.6,41.3h.5M398.9,36.5h.5M412.0,32.3h.5M406.7,43.9h.5M402.0,44.0h.5M413.9,37.4h.5M410.9,42.9h.5M408.8,44.2h.5M402.4,36.0h.5M415.4,38.7h.5M402.5,42.9h.5M416.3,36.8h.5M399.7,38.0h.5M405.5,34.9h.5M415.3,34.7h.5M414.4,33.8h.5M402.3,41.9h.5M414.7,42.3h.5M413.3,40.2h.5M409.6,43.0h.5M405.0,42.1h.5M414.1,38.6h.5M413.7,41.7h.5M417.4,39.7h.5M403.4,35.7h.5M407.9,43.8h.5M404.1,41.9h.5M413.9,32.6h.5M400.5,39.8h.5M413.0,40.8h.5M404.4,42.7h.5M410.9,34.6h.5M417.7,39.6h.5M402.0,37.8h.5M402.7,37.5h.5M398.2,37.3h.5M413.7,33.8h.5M407.5,43.8h.5M412.5,44.3h.5M399.1,37.3h.5M404.9,42.7h.5M411.8,31.8h.5M413.5,33.2h.5M411.7,32.7h.5M409.1,44.3h.5M404.6,41.8h.5M414.6,39.5h.5M407.5,44.9h.5M415.2,37.1h.5M417.2,35.8h.5M414.8,37.1h.5M409.2,43.3h.5M410.1,43.0h.5M401.2,33.6h.5M412.1,33.9h.5M402.8,33.1h.5M415.3,41.8h.5M415.6,35.0h.5M408.0,33.0h.5M411.9,44.6h.5M403.5,44.4h.5M415.1,37.7h.5M400.0,42.8h.5M407.0,34.1h.5M412.3,41.8h.5M415.6,34.8h.5M413.6,44.0h.5M416.4,37.8h.5M403.3,43.3h.5M411.7,41.5h.5M416.3,37.5h.5M398.4,37.4h.5M399.3,41.4h.5M410.9,34.4h.5M407.9,43.6h.5M408.5,44.6h.5M407.6,44.0h.5M414.6,43.8h.5M403.4,43.0h.5M399.7,35.1h.5M399.5,42.0h.5M400.1,38.5h.5M402.6,38.0h.5M402.2,40.3h.5M417.1,38.8h.5M411.6,43.5h.5M406.8,32.8h.5M404.4,43.7h.5M399.5,36.3h.5M414.3,42.2h.5M408.1,43.5h.5M409.1,33.0h.5M399.7,36.1h.5M414.4,35.7h.5M402.1,34.9h.5M399.4,38.1h.5M400.5,40.3h.5M398.3,39.6h.5M405.0,32.0h.5M414.2,36.9h.5M398.9,36.0h.5M411.2,34.9h.5M413.4,42.4h.5M413.9,40.7h.5M415.6,41.4h.5M410.0,31.7h.5" stroke="#111" stroke-width="0.55" stroke-linecap="round" fill="none"/>
</g>
<rect x="386.50" y="20.80" width="43.90" height="39.70" fill="none" stroke="#a8a8a8" stroke-width="0.8" />
<rect x="397.60" y="29.30" width="21.20" height="16.90" fill="none" stroke="#27316f" stroke-width="0.9" />
<line x1="418.80" y1="29.30" x2="442.40" y2="20.80" stroke="#27316f" stroke-width="0.8" />
<line x1="418.80" y1="46.20" x2="442.40" y2="60.30" stroke="#27316f" stroke-width="0.8" />
<ellipse cx="457.30" cy="38.40" rx="3.00" ry="7.00" fill="#cfd7d3" opacity="0.9" filter="url(#bl1)" transform="rotate(0 457.3 38.4)"/>
<g transform="rotate(0 470.7 38.7)">
<ellipse cx="470.70" cy="38.70" rx="6.24" ry="5.62" fill="#0a0a0a" filter="url(#bl2)"/>
<path d="M475.1,44.5h.5M467.8,34.6h.5M477.2,33.4h.5M472.4,46.4h.5M465.2,42.4h.5M478.9,38.2h.5M474.2,43.7h.5M464.5,38.2h.5M472.7,43.9h.5M469.9,34.4h.5M464.4,36.7h.5M476.8,39.3h.5M465.8,34.3h.5M478.9,41.8h.5M472.8,31.0h.5M475.4,42.0h.5M478.5,40.5h.5M470.0,43.5h.5M463.1,42.3h.5M473.2,33.9h.5M475.8,45.0h.5M463.7,35.7h.5M475.0,41.1h.5M468.2,33.2h.5M478.5,42.1h.5M465.3,33.2h.5M477.9,42.5h.5M478.4,41.8h.5M464.7,40.3h.5M462.5,36.2h.5M470.1,43.5h.5M465.0,37.8h.5M474.9,41.8h.5M476.1,40.3h.5M468.4,43.8h.5M471.1,33.3h.5M465.2,38.7h.5M467.9,42.3h.5M470.7,43.1h.5M469.9,32.4h.5M473.2,44.4h.5M475.5,36.8h.5M473.5,33.3h.5M462.4,38.9h.5M465.3,42.6h.5M467.3,31.3h.5M466.2,44.9h.5M468.7,32.2h.5M465.5,41.9h.5M475.7,40.3h.5M477.8,41.7h.5M470.5,43.6h.5M477.9,42.5h.5M475.9,33.7h.5M469.5,43.8h.5M468.9,44.5h.5M474.4,43.7h.5M470.0,46.6h.5M477.7,37.6h.5M471.0,46.6h.5M468.4,44.0h.5M477.1,38.7h.5M463.9,39.7h.5M472.8,44.6h.5M476.6,38.9h.5M476.2,41.8h.5M475.4,39.8h.5M468.8,43.6h.5M464.7,35.5h.5M470.7,31.9h.5M468.9,31.3h.5M466.0,42.2h.5M476.1,38.2h.5M469.5,32.1h.5M478.7,40.7h.5M476.5,34.5h.5M469.9,31.4h.5M475.2,43.5h.5M462.4,38.5h.5M473.5,31.7h.5M463.3,34.8h.5M467.6,32.4h.5M471.3,43.1h.5M474.9,42.9h.5M477.2,43.3h.5M463.8,36.3h.5M465.3,33.8h.5M465.9,39.0h.5M473.0,31.9h.5M463.7,38.6h.5M468.0,34.9h.5M470.2,33.5h.5M476.0,41.1h.5M470.0,33.7h.5M470.1,30.7h.5M464.3,38.9h.5M463.1,39.6h.5M471.5,32.1h.5M467.5,35.1h.5M474.2,42.9h.5M470.4,33.2h.5M466.3,36.9h.5M476.2,40.7h.5M467.1,32.6h.5M468.0,33.9h.5M464.0,38.1h.5M465.5,39.7h.5M475.1,35.6h.5M479.3,37.6h.5M477.4,39.4h.5M474.5,31.5h.5M465.1,40.4h.5M472.9,46.3h.5M472.5,45.0h.5M475.1,43.6h.5M475.8,37.3h.5M473.7,33.1h.5M476.6,34.2h.5M471.7,46.3h.5M465.8,39.1h.5M477.5,38.8h.5M464.9,40.4h.5M474.7,43.0h.5M467.4,45.5h.5M478.6,38.8h.5M473.5,34.7h.5M477.7,35.6h.5M475.6,35.6h.5M466.2,42.9h.5M478.0,38.7h.5M466.5,43.2h.5M469.9,43.1h.5M477.3,43.1h.5M468.8,46.3h.5M470.7,44.0h.5M465.1,38.4h.5M464.6,44.3h.5M476.8,33.8h.5M464.8,33.0h.5M477.3,36.4h.5M469.7,34.3h.5M470.0,32.7h.5M470.8,32.0h.5M469.6,43.1h.5M475.5,36.6h.5M464.6,39.7h.5M468.4,45.5h.5M476.5,37.9h.5M467.3,34.2h.5M464.7,36.7h.5M473.4,43.0h.5M472.9,46.1h.5M465.0,38.8h.5M478.1,34.2h.5M465.6,40.2h.5M472.5,43.1h.5M467.9,42.6h.5M471.1,44.0h.5M463.0,35.5h.5M470.7,32.8h.5M464.7,41.9h.5M466.3,42.6h.5M476.2,40.7h.5M475.9,37.7h.5M463.3,38.6h.5M474.4,34.8h.5M469.9,43.9h.5M465.3,42.2h.5M478.7,36.6h.5M474.1,35.5h.5" stroke="#111" stroke-width="0.55" stroke-linecap="round" fill="none"/>
</g>
<rect x="464.40" y="33.20" width="12.60" height="10.80" fill="#080808" stroke="none" stroke-width="1" filter="url(#bl2)" rx="3.5"/>
<rect x="442.40" y="20.80" width="43.50" height="39.50" fill="none" stroke="#a8a8a8" stroke-width="0.8" />
<rect x="462.60" y="30.50" width="16.80" height="16.50" fill="none" stroke="#27316f" stroke-width="0.9" />
<text transform="translate(377.60,41.60) rotate(-90)" x="0" y="2.12" font-size="5.9" text-anchor="middle" fill="#000" font-weight="normal" stroke="#000" stroke-width="0.2" textLength="12.60" lengthAdjust="spacingAndGlyphs">CD43</text>
<text transform="translate(434.10,41.00) rotate(-90)" x="0" y="2.12" font-size="5.9" text-anchor="middle" fill="#000" font-weight="normal" stroke="#000" stroke-width="0.2" textLength="12.60" lengthAdjust="spacingAndGlyphs">CD33</text>
<text x="411.20" y="73.32" font-size="7" text-anchor="middle" fill="#000" font-weight="normal" stroke="#000" stroke-width="0.25" textLength="11.80" lengthAdjust="spacingAndGlyphs">CD45</text>
<text x="468.00" y="72.12" font-size="7" text-anchor="middle" fill="#000" font-weight="normal" stroke="#000" stroke-width="0.25" textLength="11.40" lengthAdjust="spacingAndGlyphs">CD34</text>
<text transform="translate(383.60,23.40) rotate(-90)" x="0" y="1.87" font-size="5.2" text-anchor="middle" fill="#2a2a2a" font-weight="normal" >10<tspan font-size="3.2" dy="-1.5">5</tspan></text>
<text transform="translate(383.60,41.50) rotate(-90)" x="0" y="1.87" font-size="5.2" text-anchor="middle" fill="#2a2a2a" font-weight="normal" >10<tspan font-size="3.2" dy="-1.5">3</tspan></text>
<text transform="translate(383.60,54.70) rotate(-90)" x="0" y="1.87" font-size="5.2" text-anchor="middle" fill="#2a2a2a" font-weight="normal" >0</text>
<text transform="translate(439.20,23.40) rotate(-90)" x="0" y="1.87" font-size="5.2" text-anchor="middle" fill="#2a2a2a" font-weight="normal" >10<tspan font-size="3.2" dy="-1.5">5</tspan></text>
<text transform="translate(439.20,41.50) rotate(-90)" x="0" y="1.87" font-size="5.2" text-anchor="middle" fill="#2a2a2a" font-weight="normal" >10<tspan font-size="3.2" dy="-1.5">3</tspan></text>
<text transform="translate(439.20,54.70) rotate(-90)" x="0" y="1.87" font-size="5.2" text-anchor="middle" fill="#2a2a2a" font-weight="normal" >0</text>
<text x="395.80" y="66.47" font-size="5.2" text-anchor="middle" fill="#2a2a2a" font-weight="normal" >0</text>
<text x="404.20" y="66.47" font-size="5.2" text-anchor="middle" fill="#2a2a2a" font-weight="normal" >10<tspan font-size="3.2" dy="-1.5">3</tspan></text>
<text x="427.00" y="66.47" font-size="5.2" text-anchor="middle" fill="#2a2a2a" font-weight="normal" >10<tspan font-size="3.2" dy="-1.5">5</tspan></text>
<text x="455.30" y="65.77" font-size="5.2" text-anchor="middle" fill="#2a2a2a" font-weight="normal" >0</text>
<text x="461.40" y="65.77" font-size="5.2" text-anchor="middle" fill="#2a2a2a" font-weight="normal" >10<tspan font-size="3.2" dy="-1.5">3</tspan></text>
<text x="482.60" y="65.77" font-size="5.2" text-anchor="middle" fill="#2a2a2a" font-weight="normal" >10<tspan font-size="3.2" dy="-1.5">5</tspan></text>
<ellipse cx="366.30" cy="116.60" rx="7.00" ry="6.00" fill="#cfd7d3" opacity="1.0" filter="url(#bl1)" transform="rotate(0 366.3 116.6)"/>
<ellipse cx="372.30" cy="107.60" rx="9.60" ry="5.80" fill="#cfd7d3" opacity="1.0" filter="url(#bl1)" transform="rotate(-55 372.3 107.6)"/>
<ellipse cx="377.40" cy="100.40" rx="5.60" ry="5.00" fill="#cfd7d3" opacity="0.75" filter="url(#bl1)" transform="rotate(-40 377.4 100.4)"/>
<g transform="rotate(-6 387.0 98.8)">
<ellipse cx="387.00" cy="98.80" rx="4.91" ry="3.04" fill="#0a0a0a" filter="url(#bl2)"/>
<path d="M393.0,99.6h.5M391.2,96.8h.5M383.8,97.6h.5M381.7,101.5h.5M390.0,95.2h.5M391.5,98.3h.5M390.3,100.5h.5M381.0,98.3h.5M392.7,97.4h.5M383.2,95.7h.5M381.6,99.7h.5M393.1,99.8h.5M387.7,103.0h.5M384.1,96.5h.5M390.2,100.9h.5M383.0,96.0h.5M390.1,100.4h.5M381.4,98.3h.5M383.6,100.6h.5M383.9,97.4h.5M385.3,101.9h.5M392.7,97.9h.5M391.0,96.6h.5M387.4,101.6h.5M392.9,97.9h.5M385.6,101.0h.5M381.0,98.8h.5M382.9,100.2h.5M383.6,95.1h.5M387.6,101.2h.5M384.3,101.5h.5M385.2,96.3h.5M388.8,95.1h.5M382.5,98.7h.5M391.7,98.2h.5M388.9,96.3h.5M388.1,102.6h.5M385.1,102.9h.5M382.6,98.9h.5M387.9,101.9h.5M383.5,95.1h.5M390.1,101.3h.5M388.6,103.0h.5M389.5,100.7h.5M391.7,100.0h.5M392.4,96.3h.5M386.2,94.5h.5M391.4,97.5h.5M389.7,102.7h.5M386.9,96.4h.5M384.4,96.1h.5M383.6,100.9h.5M388.8,100.9h.5M386.1,101.8h.5M391.0,98.1h.5M391.3,98.2h.5M383.0,101.9h.5M389.3,95.9h.5M392.1,99.8h.5M382.3,101.8h.5M388.7,101.7h.5M390.1,97.4h.5M381.5,100.9h.5M387.4,96.4h.5M390.9,99.3h.5M391.1,97.4h.5M386.9,94.6h.5M384.5,101.3h.5M392.6,97.9h.5M386.5,102.6h.5M385.1,101.4h.5M393.3,98.9h.5M392.1,97.0h.5M390.6,98.0h.5M387.5,102.1h.5M393.7,97.7h.5M383.5,100.7h.5M382.1,100.2h.5M390.9,97.6h.5M389.0,95.2h.5M389.8,95.3h.5M383.2,96.9h.5M384.9,101.6h.5M387.8,96.4h.5M389.0,102.5h.5M387.1,101.3h.5M392.5,99.5h.5M383.8,102.6h.5M392.2,95.9h.5M386.6,101.3h.5M391.4,100.7h.5M385.7,95.7h.5M387.5,102.0h.5M382.6,96.3h.5M386.9,94.7h.5M384.9,96.6h.5M389.6,96.3h.5M382.4,97.5h.5M386.7,96.1h.5M387.1,101.6h.5M390.8,102.2h.5M382.7,97.4h.5M381.4,101.4h.5M382.5,98.7h.5M389.1,95.4h.5M391.1,98.7h.5M380.6,99.4h.5M390.7,95.3h.5M391.6,99.5h.5M390.2,100.7h.5" stroke="#111" stroke-width="0.55" stroke-linecap="round" fill="none"/>
</g>
<rect x="357.30" y="85.20" width="42.90" height="39.30" fill="none" stroke="#a8a8a8" stroke-width="0.8" />
<rect x="379.80" y="90.80" width="14.70" height="14.70" fill="none" stroke="#27316f" stroke-width="0.9" />
<line x1="394.50" y1="90.80" x2="408.90" y2="85.20" stroke="#27316f" stroke-width="0.8" />
<line x1="394.50" y1="105.50" x2="408.90" y2="124.50" stroke="#27316f" stroke-width="0.8" />
<g transform="rotate(0 421.4 95.6)">
<ellipse cx="421.40" cy="95.60" rx="3.59" ry="3.12" fill="#0a0a0a" filter="url(#bl2)"/>
<path d="M425.5,95.0h.5M424.7,94.3h.5M424.0,93.1h.5M421.1,99.6h.5M424.2,94.7h.5M417.9,93.5h.5M422.1,98.7h.5M423.4,97.8h.5M421.3,99.2h.5M419.5,93.3h.5M424.9,95.8h.5M420.0,93.1h.5M420.2,98.2h.5M422.5,92.2h.5M424.2,96.6h.5M418.2,97.8h.5M419.5,93.6h.5M423.7,98.9h.5M418.5,97.2h.5M419.6,99.7h.5M419.8,98.9h.5M419.1,98.2h.5M424.8,92.2h.5M419.3,97.7h.5M421.0,92.8h.5M426.3,95.8h.5M417.2,97.5h.5M417.3,98.0h.5M418.3,96.3h.5M425.5,95.9h.5M418.3,92.3h.5M425.0,97.6h.5M418.7,98.1h.5M423.5,98.0h.5M416.5,95.0h.5M424.4,97.8h.5M423.1,91.4h.5M422.4,98.1h.5M426.2,94.0h.5M418.5,95.9h.5M424.7,94.2h.5M424.9,93.5h.5M422.8,93.2h.5M422.1,92.8h.5M417.5,97.9h.5M422.9,93.2h.5M422.1,98.8h.5M417.7,95.2h.5M423.8,97.6h.5M420.6,91.4h.5M425.4,96.5h.5M421.5,93.1h.5M423.0,93.4h.5M418.1,93.5h.5M419.0,93.4h.5M417.8,97.3h.5M417.5,97.3h.5M417.8,96.7h.5M425.6,96.1h.5M418.1,95.8h.5M421.8,91.6h.5M418.3,96.3h.5M418.4,96.0h.5M424.0,98.0h.5M424.6,97.4h.5M418.5,95.4h.5M419.5,93.7h.5M420.9,91.6h.5M418.5,95.4h.5M417.7,95.5h.5M424.3,94.8h.5M424.6,92.1h.5M420.9,91.5h.5M423.2,99.8h.5M416.4,95.8h.5M424.1,94.2h.5M422.6,91.4h.5M424.7,96.9h.5M421.5,92.9h.5M424.1,93.8h.5M422.6,93.1h.5M416.4,95.5h.5M422.3,98.4h.5M417.9,95.5h.5M424.5,96.2h.5M424.0,99.3h.5M419.3,91.7h.5M423.7,99.1h.5M424.4,97.9h.5M419.0,93.2h.5" stroke="#111" stroke-width="0.55" stroke-linecap="round" fill="none"/>
</g>
<rect x="408.90" y="85.20" width="42.40" height="39.30" fill="none" stroke="#a8a8a8" stroke-width="0.8" />
<rect x="413.80" y="89.00" width="15.00" height="12.50" fill="none" stroke="#27316f" stroke-width="0.9" />
<path d="M453.0,104.3 L455.6,104.3 L455.6,103.2 L458.2,105.0 L455.6,106.8 L455.6,105.7 L453.0,105.7 Z" fill="#000" stroke="none" stroke-width="1" />
<ellipse cx="479.20" cy="96.80" rx="8.00" ry="3.60" fill="#cfd7d3" opacity="1.0" filter="url(#bl1)" transform="rotate(0 479.2 96.8)"/>
<ellipse cx="493.0" cy="96.9" rx="4.4" ry="1.9" fill="#444" opacity="0.55" filter="url(#bl2)"/>
<g transform="rotate(0 493.0 96.9)">
<path d="M495.0,95.9h.5M489.0,95.8h.5M497.0,98.5h.5M491.6,96.2h.5M493.4,96.2h.5M496.0,96.8h.5M490.5,98.4h.5M492.1,97.1h.5M493.0,96.8h.5M493.6,96.3h.5M489.7,95.0h.5M490.1,96.0h.5M493.0,96.9h.5M493.8,97.0h.5M491.3,96.2h.5M488.4,96.7h.5M493.8,97.3h.5M492.9,96.9h.5M494.8,96.9h.5M494.4,97.5h.5M493.5,98.4h.5M492.1,96.6h.5M491.3,96.0h.5M496.2,98.7h.5M493.0,97.3h.5M495.7,97.8h.5M495.8,95.4h.5M491.9,97.3h.5M496.3,97.0h.5M491.3,96.6h.5M491.6,96.0h.5M496.5,96.2h.5M493.0,99.2h.5M495.6,97.3h.5M492.0,97.2h.5M496.7,97.6h.5M495.8,97.0h.5M493.7,96.8h.5M494.0,98.4h.5M489.7,96.8h.5M493.3,96.5h.5M492.4,97.6h.5M497.4,97.6h.5M493.8,95.1h.5M497.3,97.0h.5" stroke="#111" stroke-width="0.55" stroke-linecap="round" fill="none"/>
</g>
<rect x="467.10" y="85.20" width="42.70" height="39.30" fill="none" stroke="#a8a8a8" stroke-width="0.8" />
<rect x="487.70" y="90.40" width="14.30" height="12.10" fill="none" stroke="#27316f" stroke-width="0.9" />
<text transform="translate(351.50,106.20) rotate(-90)" x="0" y="2.59" font-size="7.2" text-anchor="middle" fill="#000" font-weight="normal" stroke="#000" stroke-width="0.25" textLength="12.00" lengthAdjust="spacingAndGlyphs">CD45</text>
<text transform="translate(403.20,104.80) rotate(-90)" x="0" y="2.59" font-size="7.2" text-anchor="middle" fill="#000" font-weight="normal" stroke="#000" stroke-width="0.25" textLength="12.00" lengthAdjust="spacingAndGlyphs">CD33</text>
<text transform="translate(461.90,105.30) rotate(-90)" x="0" y="2.59" font-size="7.2" text-anchor="middle" fill="#000" font-weight="normal" stroke="#000" stroke-width="0.25" textLength="12.00" lengthAdjust="spacingAndGlyphs">CD33</text>
<text x="379.60" y="135.82" font-size="7" text-anchor="middle" fill="#000" font-weight="normal" stroke="#000" stroke-width="0.25" textLength="20.40" lengthAdjust="spacingAndGlyphs">HLA-ABC</text>
<text x="430.20" y="136.22" font-size="7" text-anchor="middle" fill="#000" font-weight="normal" stroke="#000" stroke-width="0.25" textLength="11.80" lengthAdjust="spacingAndGlyphs">CD19</text>
<text x="491.60" y="136.22" font-size="7" text-anchor="middle" fill="#000" font-weight="normal" stroke="#000" stroke-width="0.25" textLength="11.80" lengthAdjust="spacingAndGlyphs">CD34</text>
<text transform="translate(354.00,88.40) rotate(-90)" x="0" y="1.87" font-size="5.2" text-anchor="middle" fill="#2a2a2a" font-weight="normal" >10<tspan font-size="3.2" dy="-1.5">5</tspan></text>
<text transform="translate(354.60,118.80) rotate(-90)" x="0" y="1.87" font-size="5.2" text-anchor="middle" fill="#2a2a2a" font-weight="normal" >0</text>
<text transform="translate(406.60,88.40) rotate(-90)" x="0" y="1.87" font-size="5.2" text-anchor="middle" fill="#2a2a2a" font-weight="normal" >10<tspan font-size="3.2" dy="-1.5">5</tspan></text>
<text transform="translate(406.60,118.80) rotate(-90)" x="0" y="1.87" font-size="5.2" text-anchor="middle" fill="#2a2a2a" font-weight="normal" >0</text>
<text transform="translate(463.00,88.40) rotate(-90)" x="0" y="1.87" font-size="5.2" text-anchor="middle" fill="#2a2a2a" font-weight="normal" >10<tspan font-size="3.2" dy="-1.5">5</tspan></text>
<text transform="translate(463.40,118.80) rotate(-90)" x="0" y="1.87" font-size="5.2" text-anchor="middle" fill="#2a2a2a" font-weight="normal" >0</text>
<text x="363.20" y="129.87" font-size="5.2" text-anchor="middle" fill="#2a2a2a" font-weight="normal" >0</text>
<text x="368.60" y="129.87" font-size="5.2" text-anchor="middle" fill="#2a2a2a" font-weight="normal" >10<tspan font-size="3.2" dy="-1.5">3</tspan></text>
<text x="396.60" y="129.87" font-size="5.2" text-anchor="middle" fill="#2a2a2a" font-weight="normal" >10<tspan font-size="3.2" dy="-1.5">5</tspan></text>
<text x="413.60" y="129.87" font-size="5.2" text-anchor="middle" fill="#2a2a2a" font-weight="normal" >0</text>
<text x="428.50" y="129.87" font-size="5.2" text-anchor="middle" fill="#2a2a2a" font-weight="normal" >10<tspan font-size="3.2" dy="-1.5">3</tspan></text>
<text x="447.50" y="129.87" font-size="5.2" text-anchor="middle" fill="#2a2a2a" font-weight="normal" >10<tspan font-size="3.2" dy="-1.5">5</tspan></text>
<text x="475.20" y="129.87" font-size="5.2" text-anchor="middle" fill="#2a2a2a" font-weight="normal" >0</text>
<text x="485.90" y="129.87" font-size="5.2" text-anchor="middle" fill="#2a2a2a" font-weight="normal" >10<tspan font-size="3.2" dy="-1.5">3</tspan></text>
<text x="507.00" y="129.87" font-size="5.2" text-anchor="middle" fill="#2a2a2a" font-weight="normal" >10<tspan font-size="3.2" dy="-1.5">5</tspan></text>
</g>
<g id="panelD">
<text transform="translate(11.90,306.07) scale(0.98,1)" x="0" y="0" font-size="11.3" text-anchor="middle" fill="#000" font-weight="bold" >D</text>
<text x="104.50" y="309.55" font-size="8.2" text-anchor="middle" fill="#000" font-weight="normal" >FR</text>
<path d="M78.70,320.30 L78.70,318.10 L131.30,318.10 L131.30,320.30" fill="none" stroke="#000" stroke-width="1.1" />
<text x="105.00" y="318.10" font-size="7.5" text-anchor="middle" fill="#000" font-weight="normal" >**</text>
<line x1="78.70" y1="326.95" x2="131.30" y2="382.04" stroke="#ff8000" stroke-width="1.55" />
<line x1="78.70" y1="359.06" x2="131.30" y2="380.35" stroke="#7f7fff" stroke-width="1.55" />
<line x1="78.70" y1="384.75" x2="131.30" y2="381.37" stroke="#33ee33" stroke-width="1.55" />
<line x1="78.70" y1="385.76" x2="131.30" y2="380.69" stroke="#ff00e0" stroke-width="1.55" />
<line x1="78.70" y1="384.41" x2="131.30" y2="383.40" stroke="#ff8000" stroke-width="1.55" />
<line x1="78.70" y1="367.17" x2="131.30" y2="382.72" stroke="#a0522d" stroke-width="1.55" />
<line x1="78.70" y1="372.92" x2="131.30" y2="384.07" stroke="#0a0a8c" stroke-width="1.55" />
<line x1="78.70" y1="385.42" x2="131.30" y2="384.41" stroke="#0a6b1a" stroke-width="1.55" />
<line x1="78.70" y1="385.42" x2="131.30" y2="384.07" stroke="#33ee33" stroke-width="1.55" />
<line x1="78.70" y1="384.75" x2="131.30" y2="384.75" stroke="#d8001c" stroke-width="1.55" />
<path d="M78.70,324.95 L80.46,326.95 L78.70,328.95 L76.94,326.95 Z" fill="#ff8000" stroke="none" stroke-width="1" />
<path d="M131.30,380.04 L133.06,382.04 L131.30,384.04 L129.54,382.04 Z" fill="#ff8000" stroke="none" stroke-width="1" />
<path d="M78.70,360.90 L80.62,357.54 L76.78,357.54 Z" fill="#7f7fff" stroke="none" stroke-width="1" />
<path d="M131.30,382.19 L133.22,378.83 L129.38,378.83 Z" fill="#7f7fff" stroke="none" stroke-width="1" />
<path d="M78.70,382.91 L80.62,386.27 L76.78,386.27 Z" fill="#33ee33" stroke="none" stroke-width="1" />
<path d="M131.30,379.53 L133.22,382.89 L129.38,382.89 Z" fill="#33ee33" stroke="none" stroke-width="1" />
<rect x="76.86" y="383.92" width="3.68" height="3.68" fill="#ff00e0" stroke="none" stroke-width="1" />
<rect x="129.46" y="378.85" width="3.68" height="3.68" fill="#ff00e0" stroke="none" stroke-width="1" />
<circle cx="78.70" cy="384.41" r="1.7280000000000002" fill="#ff8000" stroke="none" stroke-width="1" />
<circle cx="131.30" cy="383.40" r="1.7280000000000002" fill="#ff8000" stroke="none" stroke-width="1" />
<rect x="76.86" y="365.33" width="3.68" height="3.68" fill="#a0522d" stroke="none" stroke-width="1" />
<rect x="129.46" y="380.88" width="3.68" height="3.68" fill="#a0522d" stroke="none" stroke-width="1" />
<path d="M78.70,371.08 L80.62,374.44 L76.78,374.44 Z" fill="#0a0a8c" stroke="none" stroke-width="1" />
<path d="M131.30,382.23 L133.22,385.59 L129.38,385.59 Z" fill="#0a0a8c" stroke="none" stroke-width="1" />
<path d="M78.70,387.26 L80.62,383.90 L76.78,383.90 Z" fill="#0a6b1a" stroke="none" stroke-width="1" />
<path d="M131.30,386.25 L133.22,382.89 L129.38,382.89 Z" fill="#0a6b1a" stroke="none" stroke-width="1" />
<path d="M78.70,383.42 L80.46,385.42 L78.70,387.42 L76.94,385.42 Z" fill="#33ee33" stroke="none" stroke-width="1" />
<path d="M131.30,382.07 L133.06,384.07 L131.30,386.07 L129.54,384.07 Z" fill="#33ee33" stroke="none" stroke-width="1" />
<path d="M78.70,382.75 L80.46,384.75 L78.70,386.75 L76.94,384.75 Z" fill="#d8001c" stroke="none" stroke-width="1" />
<path d="M131.30,382.75 L133.06,384.75 L131.30,386.75 L129.54,384.75 Z" fill="#d8001c" stroke="none" stroke-width="1" />
<line x1="53.60" y1="318.10" x2="53.60" y2="386.70" stroke="#000" stroke-width="1.4" />
<line x1="53.00" y1="386.10" x2="150.00" y2="386.10" stroke="#000" stroke-width="1.4" />
<line x1="50.40" y1="386.10" x2="53.60" y2="386.10" stroke="#000" stroke-width="0.9" />
<text x="47.90" y="388.48" font-size="6.6" text-anchor="end" fill="#000" font-weight="normal"  textLength="3.90" lengthAdjust="spacingAndGlyphs">0</text>
<line x1="50.40" y1="372.58" x2="53.60" y2="372.58" stroke="#000" stroke-width="0.9" />
<text x="47.90" y="374.96" font-size="6.6" text-anchor="end" fill="#000" font-weight="normal"  textLength="7.80" lengthAdjust="spacingAndGlyphs">20</text>
<line x1="50.40" y1="359.06" x2="53.60" y2="359.06" stroke="#000" stroke-width="0.9" />
<text x="47.90" y="361.44" font-size="6.6" text-anchor="end" fill="#000" font-weight="normal"  textLength="7.80" lengthAdjust="spacingAndGlyphs">40</text>
<line x1="50.40" y1="345.54" x2="53.60" y2="345.54" stroke="#000" stroke-width="0.9" />
<text x="47.90" y="347.92" font-size="6.6" text-anchor="end" fill="#000" font-weight="normal"  textLength="7.80" lengthAdjust="spacingAndGlyphs">60</text>
<line x1="50.40" y1="332.02" x2="53.60" y2="332.02" stroke="#000" stroke-width="0.9" />
<text x="47.90" y="334.40" font-size="6.6" text-anchor="end" fill="#000" font-weight="normal"  textLength="7.80" lengthAdjust="spacingAndGlyphs">80</text>
<line x1="50.40" y1="318.50" x2="53.60" y2="318.50" stroke="#000" stroke-width="0.9" />
<text x="47.90" y="320.88" font-size="6.6" text-anchor="end" fill="#000" font-weight="normal"  textLength="11.70" lengthAdjust="spacingAndGlyphs">100</text>
<line x1="78.70" y1="386.10" x2="78.70" y2="388.50" stroke="#000" stroke-width="0.9" />
<line x1="131.30" y1="386.10" x2="131.30" y2="388.50" stroke="#000" stroke-width="0.9" />
<text x="79.60" y="395.57" font-size="6.3" text-anchor="middle" fill="#000" font-weight="normal"  textLength="47.00" lengthAdjust="spacingAndGlyphs">Patient samples</text>
<text x="130.60" y="395.78" font-size="6.9" text-anchor="middle" fill="#000" font-weight="normal"  textLength="12.20" lengthAdjust="spacingAndGlyphs">PDX</text>
<text x="79.60" y="404.01" font-size="6.7" text-anchor="middle" fill="#000" font-weight="normal"  textLength="27.80" lengthAdjust="spacingAndGlyphs">18.5&#177;8.8</text>
<text x="129.80" y="404.01" font-size="6.7" text-anchor="middle" fill="#000" font-weight="normal"  textLength="23.60" lengthAdjust="spacingAndGlyphs">4.4&#177;0.8</text>
<text transform="translate(20.50,351.50) rotate(-90)" x="0" y="2.99" font-size="8.3" text-anchor="middle" fill="#000" font-weight="normal" stroke="#000" stroke-width="0.12" textLength="39.00" lengthAdjust="spacingAndGlyphs">% CD34+ cells</text>
<text transform="translate(30.10,351.50) rotate(-90)" x="0" y="3.06" font-size="8.5" text-anchor="middle" fill="#000" font-weight="normal" stroke="#000" stroke-width="0.12" textLength="89.00" lengthAdjust="spacingAndGlyphs">(within CD45+CD33+CD19- blasts)</text>
<path d="M154.20,316.79 L155.79,318.60 L154.20,320.41 L152.60,318.60 Z" fill="#d8001c" stroke="none" stroke-width="1" />
<text x="157.60" y="320.76" font-size="6.0" text-anchor="start" fill="#000" font-weight="normal"  textLength="15.90" lengthAdjust="spacingAndGlyphs">14030</text>
<path d="M154.20,324.29 L155.79,326.10 L154.20,327.91 L152.60,326.10 Z" fill="#33ee33" stroke="none" stroke-width="1" />
<text x="157.60" y="328.26" font-size="6.0" text-anchor="start" fill="#000" font-weight="normal"  textLength="15.90" lengthAdjust="spacingAndGlyphs">14218</text>
<path d="M154.20,335.27 L155.94,332.22 L152.46,332.22 Z" fill="#0a6b1a" stroke="none" stroke-width="1" />
<text x="157.60" y="335.76" font-size="6.0" text-anchor="start" fill="#000" font-weight="normal"  textLength="15.90" lengthAdjust="spacingAndGlyphs">14032</text>
<path d="M154.20,339.43 L155.94,342.48 L152.46,342.48 Z" fill="#0a0a8c" stroke="none" stroke-width="1" />
<text x="157.60" y="343.26" font-size="6.0" text-anchor="start" fill="#000" font-weight="normal"  textLength="15.90" lengthAdjust="spacingAndGlyphs">14182</text>
<rect x="152.53" y="346.93" width="3.33" height="3.33" fill="#a0522d" stroke="none" stroke-width="1" />
<text x="157.60" y="350.76" font-size="6.0" text-anchor="start" fill="#000" font-weight="normal"  textLength="15.90" lengthAdjust="spacingAndGlyphs">14185</text>
<circle cx="154.20" cy="356.10" r="1.566" fill="#ff8000" stroke="none" stroke-width="1" />
<text x="157.60" y="358.26" font-size="6.0" text-anchor="start" fill="#000" font-weight="normal"  textLength="15.90" lengthAdjust="spacingAndGlyphs">14046</text>
<rect x="152.53" y="361.93" width="3.33" height="3.33" fill="#ff00e0" stroke="none" stroke-width="1" />
<text x="157.60" y="365.76" font-size="6.0" text-anchor="start" fill="#000" font-weight="normal"  textLength="15.90" lengthAdjust="spacingAndGlyphs">14022</text>
<path d="M154.20,369.43 L155.94,372.48 L152.46,372.48 Z" fill="#33ee33" stroke="none" stroke-width="1" />
<text x="157.60" y="373.26" font-size="6.0" text-anchor="start" fill="#000" font-weight="normal"  textLength="15.90" lengthAdjust="spacingAndGlyphs">14096</text>
<path d="M154.20,380.27 L155.94,377.22 L152.46,377.22 Z" fill="#7f7fff" stroke="none" stroke-width="1" />
<text x="157.60" y="380.76" font-size="6.0" text-anchor="start" fill="#000" font-weight="normal"  textLength="15.90" lengthAdjust="spacingAndGlyphs">14011</text>
<path d="M154.20,384.29 L155.79,386.10 L154.20,387.91 L152.60,386.10 Z" fill="#ff8000" stroke="none" stroke-width="1" />
<text x="157.60" y="388.26" font-size="6.0" text-anchor="start" fill="#000" font-weight="normal"  textLength="15.90" lengthAdjust="spacingAndGlyphs">14175</text>
<text x="32.00" y="404.01" font-size="6.7" text-anchor="middle" fill="#000" font-weight="normal"  textLength="49.00" lengthAdjust="spacingAndGlyphs">Mean&#177;SEM (%):</text>
<text x="271.00" y="309.30" font-size="8.6" text-anchor="middle" fill="#000" font-weight="normal" >IR</text>
<path d="M244.40,318.60 L244.40,316.40 L296.40,316.40 L296.40,318.60" fill="none" stroke="#000" stroke-width="1.1" />
<text x="270.40" y="317.38" font-size="8" text-anchor="middle" fill="#000" font-weight="normal" >****</text>
<line x1="244.40" y1="329.36" x2="296.40" y2="380.36" stroke="#d8001c" stroke-width="1.55" />
<line x1="244.40" y1="336.16" x2="296.40" y2="381.04" stroke="#0a0a8c" stroke-width="1.55" />
<line x1="244.40" y1="326.64" x2="296.40" y2="380.36" stroke="#33ccff" stroke-width="1.55" />
<line x1="244.40" y1="355.88" x2="296.40" y2="381.38" stroke="#a0522d" stroke-width="1.55" />
<line x1="244.40" y1="351.12" x2="296.40" y2="381.38" stroke="#000014" stroke-width="1.55" />
<line x1="244.40" y1="333.44" x2="296.40" y2="380.70" stroke="#ff8000" stroke-width="1.55" />
<line x1="244.40" y1="328.00" x2="296.40" y2="381.04" stroke="#7f7fff" stroke-width="1.55" />
<line x1="244.40" y1="362.34" x2="296.40" y2="381.38" stroke="#33ee33" stroke-width="1.55" />
<line x1="244.40" y1="382.20" x2="296.40" y2="381.72" stroke="#ff00e0" stroke-width="1.55" />
<path d="M244.40,327.36 L246.16,329.36 L244.40,331.36 L242.64,329.36 Z" fill="#d8001c" stroke="none" stroke-width="1" />
<path d="M296.40,378.36 L298.16,380.36 L296.40,382.36 L294.64,380.36 Z" fill="#d8001c" stroke="none" stroke-width="1" />
<path d="M244.40,338.00 L246.32,334.64 L242.48,334.64 Z" fill="#0a0a8c" stroke="none" stroke-width="1" />
<path d="M296.40,382.88 L298.32,379.52 L294.48,379.52 Z" fill="#0a0a8c" stroke="none" stroke-width="1" />
<path d="M244.40,324.80 L246.32,328.16 L242.48,328.16 Z" fill="#33ccff" stroke="none" stroke-width="1" />
<path d="M296.40,378.52 L298.32,381.88 L294.48,381.88 Z" fill="#33ccff" stroke="none" stroke-width="1" />
<rect x="242.56" y="354.04" width="3.68" height="3.68" fill="#a0522d" stroke="none" stroke-width="1" />
<rect x="294.56" y="379.54" width="3.68" height="3.68" fill="#a0522d" stroke="none" stroke-width="1" />
<circle cx="244.40" cy="351.12" r="1.7280000000000002" fill="#000014" stroke="none" stroke-width="1" />
<circle cx="296.40" cy="381.38" r="1.7280000000000002" fill="#000014" stroke="none" stroke-width="1" />
<path d="M244.40,331.44 L246.16,333.44 L244.40,335.44 L242.64,333.44 Z" fill="#ff8000" stroke="none" stroke-width="1" />
<path d="M296.40,378.70 L298.16,380.70 L296.40,382.70 L294.64,380.70 Z" fill="#ff8000" stroke="none" stroke-width="1" />
<path d="M244.40,329.84 L246.32,326.48 L242.48,326.48 Z" fill="#7f7fff" stroke="none" stroke-width="1" />
<path d="M296.40,382.88 L298.32,379.52 L294.48,379.52 Z" fill="#7f7fff" stroke="none" stroke-width="1" />
<path d="M244.40,360.50 L246.32,363.86 L242.48,363.86 Z" fill="#33ee33" stroke="none" stroke-width="1" />
<path d="M296.40,379.54 L298.32,382.90 L294.48,382.90 Z" fill="#33ee33" stroke="none" stroke-width="1" />
<rect x="242.56" y="380.36" width="3.68" height="3.68" fill="#ff00e0" stroke="none" stroke-width="1" />
<rect x="294.56" y="379.88" width="3.68" height="3.68" fill="#ff00e0" stroke="none" stroke-width="1" />
<line x1="219.80" y1="314.00" x2="219.80" y2="383.00" stroke="#000" stroke-width="1.4" />
<line x1="219.20" y1="382.40" x2="316.00" y2="382.40" stroke="#000" stroke-width="1.4" />
<line x1="216.60" y1="382.40" x2="219.80" y2="382.40" stroke="#000" stroke-width="0.9" />
<text x="214.50" y="384.70" font-size="6.4" text-anchor="end" fill="#000" font-weight="normal"  textLength="4.00" lengthAdjust="spacingAndGlyphs">0</text>
<line x1="216.60" y1="368.80" x2="219.80" y2="368.80" stroke="#000" stroke-width="0.9" />
<text x="214.50" y="371.10" font-size="6.4" text-anchor="end" fill="#000" font-weight="normal"  textLength="7.90" lengthAdjust="spacingAndGlyphs">20</text>
<line x1="216.60" y1="355.20" x2="219.80" y2="355.20" stroke="#000" stroke-width="0.9" />
<text x="214.50" y="357.50" font-size="6.4" text-anchor="end" fill="#000" font-weight="normal"  textLength="7.90" lengthAdjust="spacingAndGlyphs">40</text>
<line x1="216.60" y1="341.60" x2="219.80" y2="341.60" stroke="#000" stroke-width="0.9" />
<text x="214.50" y="343.90" font-size="6.4" text-anchor="end" fill="#000" font-weight="normal"  textLength="7.90" lengthAdjust="spacingAndGlyphs">60</text>
<line x1="216.60" y1="328.00" x2="219.80" y2="328.00" stroke="#000" stroke-width="0.9" />
<text x="214.50" y="330.30" font-size="6.4" text-anchor="end" fill="#000" font-weight="normal"  textLength="7.90" lengthAdjust="spacingAndGlyphs">80</text>
<line x1="216.60" y1="314.40" x2="219.80" y2="314.40" stroke="#000" stroke-width="0.9" />
<text x="214.50" y="316.70" font-size="6.4" text-anchor="end" fill="#000" font-weight="normal"  textLength="11.80" lengthAdjust="spacingAndGlyphs">100</text>
<line x1="244.40" y1="382.40" x2="244.40" y2="384.80" stroke="#000" stroke-width="0.9" />
<line x1="296.40" y1="382.40" x2="296.40" y2="384.80" stroke="#000" stroke-width="0.9" />
<text x="245.00" y="392.47" font-size="6.3" text-anchor="middle" fill="#000" font-weight="normal"  textLength="47.00" lengthAdjust="spacingAndGlyphs">Patient samples</text>
<text x="296.40" y="392.68" font-size="6.9" text-anchor="middle" fill="#000" font-weight="normal"  textLength="12.20" lengthAdjust="spacingAndGlyphs">PDX</text>
<text x="245.00" y="400.71" font-size="6.7" text-anchor="middle" fill="#000" font-weight="normal"  textLength="27.80" lengthAdjust="spacingAndGlyphs">54.8&#177;9.3</text>
<text x="295.60" y="400.71" font-size="6.7" text-anchor="middle" fill="#000" font-weight="normal"  textLength="23.60" lengthAdjust="spacingAndGlyphs">1.9&#177;0.3</text>
<text transform="translate(185.70,348.60) rotate(-90)" x="0" y="2.99" font-size="8.3" text-anchor="middle" fill="#000" font-weight="normal" stroke="#000" stroke-width="0.12" textLength="39.00" lengthAdjust="spacingAndGlyphs">% CD34+ cells</text>
<text transform="translate(195.40,348.60) rotate(-90)" x="0" y="3.06" font-size="8.5" text-anchor="middle" fill="#000" font-weight="normal" stroke="#000" stroke-width="0.12" textLength="89.00" lengthAdjust="spacingAndGlyphs">(within CD45+CD33+CD19- blasts)</text>
<rect x="318.33" y="313.13" width="3.33" height="3.33" fill="#ff00e0" stroke="none" stroke-width="1" />
<text x="323.40" y="316.96" font-size="6.0" text-anchor="start" fill="#000" font-weight="normal"  textLength="15.80" lengthAdjust="spacingAndGlyphs">14008</text>
<path d="M320.00,321.56 L321.74,324.61 L318.26,324.61 Z" fill="#33ee33" stroke="none" stroke-width="1" />
<text x="323.40" y="325.39" font-size="6.0" text-anchor="start" fill="#000" font-weight="normal"  textLength="15.80" lengthAdjust="spacingAndGlyphs">14119</text>
<path d="M320.00,333.33 L321.74,330.28 L318.26,330.28 Z" fill="#7f7fff" stroke="none" stroke-width="1" />
<text x="323.40" y="333.82" font-size="6.0" text-anchor="start" fill="#000" font-weight="normal"  textLength="15.80" lengthAdjust="spacingAndGlyphs">14204</text>
<path d="M320.00,338.28 L321.60,340.09 L320.00,341.90 L318.40,340.09 Z" fill="#ff8000" stroke="none" stroke-width="1" />
<text x="323.40" y="342.25" font-size="6.0" text-anchor="start" fill="#000" font-weight="normal"  textLength="15.80" lengthAdjust="spacingAndGlyphs">14088</text>
<circle cx="320.00" cy="348.52" r="1.566" fill="#000014" stroke="none" stroke-width="1" />
<text x="323.40" y="350.68" font-size="6.0" text-anchor="start" fill="#000" font-weight="normal"  textLength="15.80" lengthAdjust="spacingAndGlyphs">14202</text>
<rect x="318.33" y="355.28" width="3.33" height="3.33" fill="#a0522d" stroke="none" stroke-width="1" />
<text x="323.40" y="359.11" font-size="6.0" text-anchor="start" fill="#000" font-weight="normal"  textLength="15.80" lengthAdjust="spacingAndGlyphs">14050</text>
<path d="M320.00,363.71 L321.74,366.76 L318.26,366.76 Z" fill="#33ccff" stroke="none" stroke-width="1" />
<text x="323.40" y="367.54" font-size="6.0" text-anchor="start" fill="#000" font-weight="normal"  textLength="15.80" lengthAdjust="spacingAndGlyphs">14137</text>
<path d="M320.00,375.48 L321.74,372.43 L318.26,372.43 Z" fill="#0a0a8c" stroke="none" stroke-width="1" />
<text x="323.40" y="375.97" font-size="6.0" text-anchor="start" fill="#000" font-weight="normal"  textLength="15.80" lengthAdjust="spacingAndGlyphs">14089</text>
<path d="M320.00,380.43 L321.60,382.24 L320.00,384.05 L318.40,382.24 Z" fill="#d8001c" stroke="none" stroke-width="1" />
<text x="323.40" y="384.40" font-size="6.0" text-anchor="start" fill="#000" font-weight="normal"  textLength="15.80" lengthAdjust="spacingAndGlyphs">14113</text>
<line x1="463.90" y1="370.34" x2="463.90" y2="357.73" stroke="#7f7fff" stroke-width="0.8" />
<line x1="462.40" y1="370.34" x2="465.40" y2="370.34" stroke="#7f7fff" stroke-width="0.8" />
<line x1="462.40" y1="357.73" x2="465.40" y2="357.73" stroke="#7f7fff" stroke-width="0.8" />
<line x1="463.90" y1="381.25" x2="463.90" y2="375.80" stroke="#33ee33" stroke-width="0.8" />
<line x1="462.40" y1="375.80" x2="465.40" y2="375.80" stroke="#33ee33" stroke-width="0.8" />
<text x="438.00" y="313.48" font-size="8.0" text-anchor="middle" fill="#000" font-weight="normal" >HR</text>
<path d="M412.60,341.00 L412.60,338.80 L463.90,338.80 L463.90,341.00" fill="none" stroke="#000" stroke-width="1.1" />
<text x="438.25" y="337.76" font-size="6.0" text-anchor="middle" fill="#000" font-weight="normal" >ns</text>
<line x1="412.60" y1="375.37" x2="463.90" y2="350.17" stroke="#d8001c" stroke-width="1.55" />
<line x1="412.60" y1="366.86" x2="463.90" y2="382.52" stroke="#0a0a8c" stroke-width="1.55" />
<line x1="412.60" y1="381.16" x2="463.90" y2="381.84" stroke="#a0522d" stroke-width="1.55" />
<line x1="412.60" y1="380.48" x2="463.90" y2="381.50" stroke="#000014" stroke-width="1.55" />
<line x1="412.60" y1="381.50" x2="463.90" y2="381.84" stroke="#ff8000" stroke-width="1.55" />
<line x1="412.60" y1="382.52" x2="463.90" y2="364.13" stroke="#7f7fff" stroke-width="1.55" />
<line x1="412.60" y1="381.84" x2="463.90" y2="378.43" stroke="#33ee33" stroke-width="1.55" />
<line x1="412.60" y1="382.18" x2="463.90" y2="382.18" stroke="#ff00e0" stroke-width="1.55" />
<line x1="412.60" y1="382.52" x2="463.90" y2="382.52" stroke="#33ccff" stroke-width="1.55" />
<path d="M412.60,373.37 L414.36,375.37 L412.60,377.37 L410.84,375.37 Z" fill="#d8001c" stroke="none" stroke-width="1" />
<path d="M463.90,348.17 L465.66,350.17 L463.90,352.17 L462.14,350.17 Z" fill="#d8001c" stroke="none" stroke-width="1" />
<path d="M412.60,368.70 L414.52,365.34 L410.68,365.34 Z" fill="#0a0a8c" stroke="none" stroke-width="1" />
<path d="M463.90,384.36 L465.82,381.00 L461.98,381.00 Z" fill="#0a0a8c" stroke="none" stroke-width="1" />
<rect x="410.76" y="379.32" width="3.68" height="3.68" fill="#a0522d" stroke="none" stroke-width="1" />
<rect x="462.06" y="380.00" width="3.68" height="3.68" fill="#a0522d" stroke="none" stroke-width="1" />
<circle cx="412.60" cy="380.48" r="1.7280000000000002" fill="#000014" stroke="none" stroke-width="1" />
<circle cx="463.90" cy="381.50" r="1.7280000000000002" fill="#000014" stroke="none" stroke-width="1" />
<circle cx="412.60" cy="381.50" r="1.7280000000000002" fill="#ff8000" stroke="none" stroke-width="1" />
<circle cx="463.90" cy="381.84" r="1.7280000000000002" fill="#ff8000" stroke="none" stroke-width="1" />
<path d="M412.60,384.36 L414.52,381.00 L410.68,381.00 Z" fill="#7f7fff" stroke="none" stroke-width="1" />
<path d="M463.90,365.97 L465.82,362.61 L461.98,362.61 Z" fill="#7f7fff" stroke="none" stroke-width="1" />
<path d="M412.60,380.00 L414.52,383.36 L410.68,383.36 Z" fill="#33ee33" stroke="none" stroke-width="1" />
<path d="M463.90,376.59 L465.82,379.95 L461.98,379.95 Z" fill="#33ee33" stroke="none" stroke-width="1" />
<rect x="410.76" y="380.34" width="3.68" height="3.68" fill="#ff00e0" stroke="none" stroke-width="1" />
<rect x="462.06" y="380.34" width="3.68" height="3.68" fill="#ff00e0" stroke="none" stroke-width="1" />
<circle cx="412.60" cy="382.52" r="1.7280000000000002" fill="#33ccff" stroke="none" stroke-width="1" />
<circle cx="463.90" cy="382.52" r="1.7280000000000002" fill="#33ccff" stroke="none" stroke-width="1" />
<line x1="386.80" y1="314.70" x2="386.80" y2="383.80" stroke="#000" stroke-width="1.4" />
<line x1="386.20" y1="383.20" x2="484.50" y2="383.20" stroke="#000" stroke-width="1.4" />
<line x1="383.60" y1="383.20" x2="386.80" y2="383.20" stroke="#000" stroke-width="0.9" />
<text x="381.40" y="385.50" font-size="6.4" text-anchor="end" fill="#000" font-weight="normal"  textLength="4.00" lengthAdjust="spacingAndGlyphs">0</text>
<line x1="383.60" y1="369.58" x2="386.80" y2="369.58" stroke="#000" stroke-width="0.9" />
<text x="381.40" y="371.88" font-size="6.4" text-anchor="end" fill="#000" font-weight="normal"  textLength="7.80" lengthAdjust="spacingAndGlyphs">20</text>
<line x1="383.60" y1="355.96" x2="386.80" y2="355.96" stroke="#000" stroke-width="0.9" />
<text x="381.40" y="358.26" font-size="6.4" text-anchor="end" fill="#000" font-weight="normal"  textLength="7.80" lengthAdjust="spacingAndGlyphs">40</text>
<line x1="383.60" y1="342.34" x2="386.80" y2="342.34" stroke="#000" stroke-width="0.9" />
<text x="381.40" y="344.64" font-size="6.4" text-anchor="end" fill="#000" font-weight="normal"  textLength="7.80" lengthAdjust="spacingAndGlyphs">60</text>
<line x1="383.60" y1="328.72" x2="386.80" y2="328.72" stroke="#000" stroke-width="0.9" />
<text x="381.40" y="331.02" font-size="6.4" text-anchor="end" fill="#000" font-weight="normal"  textLength="7.80" lengthAdjust="spacingAndGlyphs">80</text>
<line x1="383.60" y1="315.10" x2="386.80" y2="315.10" stroke="#000" stroke-width="0.9" />
<text x="381.40" y="317.40" font-size="6.4" text-anchor="end" fill="#000" font-weight="normal"  textLength="11.60" lengthAdjust="spacingAndGlyphs">100</text>
<line x1="412.60" y1="383.20" x2="412.60" y2="385.60" stroke="#000" stroke-width="0.9" />
<line x1="463.90" y1="383.20" x2="463.90" y2="385.60" stroke="#000" stroke-width="0.9" />
<text x="412.70" y="393.17" font-size="6.3" text-anchor="middle" fill="#000" font-weight="normal"  textLength="47.00" lengthAdjust="spacingAndGlyphs">Patient samples</text>
<text x="463.90" y="393.38" font-size="6.9" text-anchor="middle" fill="#000" font-weight="normal"  textLength="12.20" lengthAdjust="spacingAndGlyphs">PDX</text>
<text x="412.70" y="401.31" font-size="6.7" text-anchor="middle" fill="#000" font-weight="normal"  textLength="24.20" lengthAdjust="spacingAndGlyphs">4.9&#177;2.6</text>
<text x="463.10" y="401.31" font-size="6.7" text-anchor="middle" fill="#000" font-weight="normal"  textLength="23.60" lengthAdjust="spacingAndGlyphs">9.2&#177;2.9</text>
<text transform="translate(353.80,349.15) rotate(-90)" x="0" y="2.99" font-size="8.3" text-anchor="middle" fill="#000" font-weight="normal" stroke="#000" stroke-width="0.12" textLength="39.00" lengthAdjust="spacingAndGlyphs">% CD34+ cells</text>
<text transform="translate(363.40,349.15) rotate(-90)" x="0" y="3.06" font-size="8.5" text-anchor="middle" fill="#000" font-weight="normal" stroke="#000" stroke-width="0.12" textLength="89.00" lengthAdjust="spacingAndGlyphs">(within CD45+CD33+CD19- blasts)</text>
<circle cx="488.00" cy="314.80" r="1.566" fill="#33ccff" stroke="none" stroke-width="1" />
<text x="491.40" y="317.25" font-size="6.8" text-anchor="start" fill="#000" font-weight="normal"  textLength="17.80" lengthAdjust="spacingAndGlyphs">14048</text>
<rect x="486.33" y="321.64" width="3.33" height="3.33" fill="#ff00e0" stroke="none" stroke-width="1" />
<text x="491.40" y="325.76" font-size="6.8" text-anchor="start" fill="#000" font-weight="normal"  textLength="17.80" lengthAdjust="spacingAndGlyphs">14057</text>
<path d="M488.00,330.15 L489.74,333.20 L486.26,333.20 Z" fill="#33ee33" stroke="none" stroke-width="1" />
<text x="491.40" y="334.27" font-size="6.8" text-anchor="start" fill="#000" font-weight="normal"  textLength="17.80" lengthAdjust="spacingAndGlyphs">14085</text>
<path d="M488.00,342.00 L489.74,338.95 L486.26,338.95 Z" fill="#7f7fff" stroke="none" stroke-width="1" />
<text x="491.40" y="342.78" font-size="6.8" text-anchor="start" fill="#000" font-weight="normal"  textLength="17.80" lengthAdjust="spacingAndGlyphs">14160</text>
<circle cx="488.00" cy="348.84" r="1.566" fill="#ff8000" stroke="none" stroke-width="1" />
<text x="491.40" y="351.29" font-size="6.8" text-anchor="start" fill="#000" font-weight="normal"  textLength="17.80" lengthAdjust="spacingAndGlyphs">14058</text>
<circle cx="488.00" cy="357.35" r="1.566" fill="#000014" stroke="none" stroke-width="1" />
<text x="491.40" y="359.80" font-size="6.8" text-anchor="start" fill="#000" font-weight="normal"  textLength="17.80" lengthAdjust="spacingAndGlyphs">14163</text>
<rect x="486.33" y="364.19" width="3.33" height="3.33" fill="#a0522d" stroke="none" stroke-width="1" />
<text x="491.40" y="368.31" font-size="6.8" text-anchor="start" fill="#000" font-weight="normal"  textLength="17.80" lengthAdjust="spacingAndGlyphs">14186</text>
<path d="M488.00,376.04 L489.74,372.99 L486.26,372.99 Z" fill="#0a0a8c" stroke="none" stroke-width="1" />
<text x="491.40" y="376.82" font-size="6.8" text-anchor="start" fill="#000" font-weight="normal"  textLength="17.80" lengthAdjust="spacingAndGlyphs">14093</text>
<path d="M488.00,381.07 L489.60,382.88 L488.00,384.69 L486.40,382.88 Z" fill="#d8001c" stroke="none" stroke-width="1" />
<text x="491.40" y="385.33" font-size="6.8" text-anchor="start" fill="#000" font-weight="normal"  textLength="17.80" lengthAdjust="spacingAndGlyphs">14070</text>
</g>
<g id="panelE">
<text transform="translate(11.30,435.17) scale(1.0,1)" x="0" y="0" font-size="11.3" text-anchor="middle" fill="#000" font-weight="bold" >E</text>
<text x="73.00" y="436.58" font-size="6.6" text-anchor="middle" fill="#000" font-weight="normal"  textLength="18.50" lengthAdjust="spacingAndGlyphs">Sorter</text>
<text x="72.90" y="445.12" font-size="7.0" text-anchor="middle" fill="#000" font-weight="normal"  textLength="91.50" lengthAdjust="spacingAndGlyphs">CD45+CD33+/&#8722;CD19<tspan font-size="4.5" dy="-1.5">-</tspan><tspan dy="1.5"> cells</tspan></text>
<g transform="translate(25,440) scale(0.17307)">
<defs><linearGradient id="agr" x1="0" y1="0" x2="1" y2="0"><stop offset="0" stop-color="#b4c6d1"/><stop offset="0.6" stop-color="#d3dfe6"/><stop offset="1" stop-color="#ffffff"/></linearGradient></defs>
<path d="M160,158 C160,95 200,52 262,52 C318,52 356,86 377,122 L396,127 L368,161 L329,111 L349,117 C338,97 308,74 268,76 C230,80 201,110 200,158 Z" fill="url(#agr)" stroke="#000" stroke-width="6" stroke-linejoin="round"/>
<path d="M123.4,224.0 L112.0,226.0 L98.0,230.0 L89.0,236.0 L86.4,244.0 L82.0,270.0 L79.9,284.5 L74.0,305.0 L69.9,317.0 L62.0,328.0 L59.9,334.0 L63.0,342.0 L67.4,344.6 L74.0,338.0 L76.4,334.0 L82.4,319.5 L88.0,303.0 L92.4,289.5 L95.0,276.0 L97.4,264.5 L100.0,280.0 L102.4,294.5 L100.5,310.0 L99.9,324.5 L101.5,342.0 L103.4,359.6 L106.0,374.0 L108.4,384.6 L109.5,398.0 L109.9,409.6 L113.0,425.0 L115.9,437.1 L110.0,445.0 L107.4,449.6 L107.4,452.5 L121.6,452.5 L121.6,440.0 L121.9,400.0 L122.3,360.0 L122.7,335.0 L123.4,330.0 L124.1,335.0 L124.5,360.0 L124.9,400.0 L125.2,440.0 L125.2,452.5 L139.4,452.5 L139.4,449.6 L136.8,445.0 L130.9,437.1 L133.8,425.0 L136.9,409.6 L137.3,398.0 L138.4,384.6 L140.8,374.0 L143.4,359.6 L145.3,342.0 L146.9,324.5 L146.3,310.0 L144.4,294.5 L146.8,280.0 L149.4,264.5 L151.8,276.0 L154.4,289.5 L158.8,303.0 L164.4,319.5 L170.4,334.0 L172.8,338.0 L179.4,344.6 L183.8,342.0 L186.9,334.0 L184.8,328.0 L176.9,317.0 L172.8,305.0 L166.9,284.5 L164.8,270.0 L160.4,244.0 L157.8,236.0 L148.8,230.0 L134.8,226.0 Z" fill="#ec3512" stroke="#c02200" stroke-width="2.2" stroke-linejoin="round"/>
<rect x="116.5" y="210" width="13.8" height="18" fill="#ec3512"/>
<ellipse cx="123.4" cy="200.5" rx="12.6" ry="15.6" fill="#ec3512" stroke="#c02200" stroke-width="2.2"/>
<path d="M123.4,332 L123.4,450 M110,262 C116,268 131,268 137,262 M123.4,270 L123.4,318" stroke="#a81c00" stroke-width="2" fill="none" opacity="0.55"/>
<path d="M402.0,203.0 L394.6,209.9 L395.0,220.0 L384.9,219.6 L378.0,227.0 L371.1,219.6 L361.0,220.0 L361.4,209.9 L354.0,203.0 L361.4,196.1 L361.0,186.0 L371.1,186.4 L378.0,179.0 L384.9,186.4 L395.0,186.0 L394.6,196.1 Z" fill="#33ccff" stroke="#33ccff" stroke-width="6" stroke-linejoin="round"/>
<path d="M378,232 L378,288" stroke="#000" stroke-width="4" fill="none"/>
<path d="M370,282 L386,282 L378,298 Z" fill="#000"/>
<path d="M322,328 L322,372 A58,14 0 0 0 438,372 L438,328" fill="#fff" stroke="#000" stroke-width="5.5"/>
<ellipse cx="380" cy="328" rx="58" ry="13.5" fill="#fff" stroke="#000" stroke-width="5.5"/>
<path d="M342,380h6 M352,382h6 M362,383h6 M373,383h6 M384,383h6 M395,382h6 M406,380h6" stroke="#2233aa" stroke-width="5"/>
</g>
<text x="95.80" y="514.26" font-size="7.4" text-anchor="middle" fill="#000" font-weight="normal"  textLength="68.70" lengthAdjust="spacingAndGlyphs">15 replicates/dilution</text>
<text x="121.40" y="454.93" font-size="7.3" text-anchor="middle" fill="#000" font-weight="normal"  textLength="32.80" lengthAdjust="spacingAndGlyphs">Cell dose:</text>
<text x="121.40" y="463.33" font-size="7.3" text-anchor="middle" fill="#000" font-weight="normal"  textLength="13.40" lengthAdjust="spacingAndGlyphs">250</text>
<text x="121.40" y="471.63" font-size="7.3" text-anchor="middle" fill="#000" font-weight="normal"  textLength="13.40" lengthAdjust="spacingAndGlyphs">500</text>
<text x="121.40" y="480.13" font-size="7.3" text-anchor="middle" fill="#000" font-weight="normal"  textLength="17.60" lengthAdjust="spacingAndGlyphs">1000</text>
<text x="121.40" y="488.33" font-size="7.3" text-anchor="middle" fill="#000" font-weight="normal"  textLength="17.60" lengthAdjust="spacingAndGlyphs">2000</text>
<text x="125.80" y="497.46" font-size="7.4" text-anchor="middle" fill="#000" font-weight="normal"  textLength="27.30" lengthAdjust="spacingAndGlyphs">5 weeks</text>
<line x1="104.60" y1="499.20" x2="147.50" y2="499.20" stroke="#000" stroke-width="0.9" />
<path d="M151.4,499.2 L147.4,497.7 L147.4,500.7 Z" fill="#000" stroke="none" stroke-width="1" />
<text x="48.60" y="527.05" font-size="5.7" text-anchor="middle" fill="#000" font-weight="normal"  textLength="77.00" lengthAdjust="spacingAndGlyphs">Primary AML patient samples</text>
<text x="48.80" y="534.65" font-size="5.7" text-anchor="middle" fill="#000" font-weight="normal"  textLength="45.00" lengthAdjust="spacingAndGlyphs">FR n=2 (#1; #2)</text>
<text x="48.80" y="541.75" font-size="5.7" text-anchor="middle" fill="#000" font-weight="normal"  textLength="44.00" lengthAdjust="spacingAndGlyphs">IR n=2 (#3; #4)</text>
<text x="48.80" y="548.85" font-size="5.7" text-anchor="middle" fill="#000" font-weight="normal"  textLength="46.00" lengthAdjust="spacingAndGlyphs">HR n=2 (#5; #6)</text>
<rect x="152.00" y="488.60" width="83.20" height="17.00" fill="#fff" stroke="#000" stroke-width="0.9" />
<text x="193.80" y="495.53" font-size="6.2" text-anchor="middle" fill="#000" font-weight="normal"  textLength="61.00" lengthAdjust="spacingAndGlyphs">Number of wells plated</text>
<text x="193.80" y="503.63" font-size="6.2" text-anchor="middle" fill="#000" font-weight="normal"  textLength="74.50" lengthAdjust="spacingAndGlyphs">with 250 cells showing CAs</text>
<line x1="235.30" y1="499.00" x2="245.50" y2="499.00" stroke="#000" stroke-width="0.9" />
<path d="M249.2,499.0 L245.2,497.5 L245.2,500.5 Z" fill="#000" stroke="none" stroke-width="1" />
<g transform="translate(195.4,438.6) scale(0.17307)">
<path d="M322,328 L322,379 A58,14 0 0 0 438,379 L438,328" fill="#fff" stroke="#000" stroke-width="5.5"/>
<ellipse cx="380" cy="328" rx="58" ry="13.5" fill="#fff" stroke="#000" stroke-width="5.5"/>
<path d="M336,374h9 M350,380h8 M366,378h9 M384,382h8 M400,378h9 M414,372h6" stroke="#44ccff" stroke-width="7" stroke-linecap="round"/>
<path d="M342,386h5 M356,389h5 M370,390h5 M386,390h5 M400,388h5 M412,384h4" stroke="#2233aa" stroke-width="4"/>
</g>
<text x="261.30" y="477.15" font-size="6.8" text-anchor="middle" fill="#000" font-weight="normal"  textLength="43.80" lengthAdjust="spacingAndGlyphs">Methylcellulose</text>
<line x1="261.10" y1="479.20" x2="261.10" y2="488.50" stroke="#000" stroke-width="0.8" />
<path d="M261.1,491.4 L259.6,487.4 L262.6,487.4 Z" fill="#000" stroke="none" stroke-width="1" />
<text x="288.80" y="497.25" font-size="6.8" text-anchor="middle" fill="#000" font-weight="normal"  textLength="25.20" lengthAdjust="spacingAndGlyphs">2 Weeks</text>
<line x1="274.50" y1="499.00" x2="306.50" y2="499.00" stroke="#000" stroke-width="0.9" />
<path d="M310.6,499.0 L306.4,497.5 L306.4,500.5 Z" fill="#000" stroke="none" stroke-width="1" />
<text x="264.50" y="514.85" font-size="6.8" text-anchor="middle" fill="#000" font-weight="normal"  textLength="60.50" lengthAdjust="spacingAndGlyphs">15 replicates/dilution</text>
<rect x="312.40" y="488.30" width="79.40" height="17.60" fill="#fff" stroke="#000" stroke-width="0.9" />
<text x="352.40" y="496.18" font-size="6.6" text-anchor="middle" fill="#000" font-weight="normal"  textLength="71.50" lengthAdjust="spacingAndGlyphs">Wells scored with colonies</text>
<text x="352.40" y="504.08" font-size="6.6" text-anchor="middle" fill="#000" font-weight="normal"  textLength="15.80" lengthAdjust="spacingAndGlyphs">ELDA</text>
<defs><filter id="tx1" x="0" y="0" width="100%" height="100%"><feTurbulence type="fractalNoise" baseFrequency="0.5" numOctaves="2" seed="3" result="n"/><feColorMatrix in="n" type="matrix" values="0 0 0 0 0.36  0 0 0 0 0.42  0 0 0 0 0.68  3.2 0 0 0 -1.45"/><feComposite in2="SourceGraphic" operator="in"/></filter><filter id="tx2" x="0" y="0" width="100%" height="100%"><feTurbulence type="fractalNoise" baseFrequency="0.55" numOctaves="3" seed="11" result="n"/><feColorMatrix in="n" type="matrix" values="0 0 0 0 0.10  0 0 0 0 0.12  0 0 0 0 0.32  4.2 0 0 0 -1.75"/><feComposite in2="SourceGraphic" operator="in"/></filter><filter id="tx3" x="0" y="0" width="100%" height="100%"><feTurbulence type="fractalNoise" baseFrequency="0.16" numOctaves="2" seed="23" result="n"/><feColorMatrix in="n" type="matrix" values="0 0 0 0 0.08  0 0 0 0 0.10  0 0 0 0 0.30  3.6 0 0 0 -1.7"/><feComposite in2="SourceGraphic" operator="in"/></filter><linearGradient id="lg2" x1="0" y1="0" x2="1" y2="0"><stop offset="0" stop-color="#141a48" stop-opacity="0.55"/><stop offset="0.16" stop-color="#141a48" stop-opacity="0.12"/><stop offset="0.4" stop-color="#141a48" stop-opacity="0"/></linearGradient><linearGradient id="lg3" x1="0" y1="0" x2="0" y2="1"><stop offset="0" stop-color="#141a48" stop-opacity="0.3"/><stop offset="0.2" stop-color="#141a48" stop-opacity="0"/><stop offset="0.85" stop-color="#141a48" stop-opacity="0"/><stop offset="1" stop-color="#141a48" stop-opacity="0.25"/></linearGradient></defs>
<rect x="170.90" y="513.20" width="48.00" height="36.00" fill="#a8bbe1" stroke="none" stroke-width="1" />
<rect x="170.90" y="513.20" width="48.00" height="36.00" fill="#a8bbe1" stroke="none" stroke-width="1" filter="url(#tx1)" opacity="0.55"/>
<path d="M200.7,539.3h.5M208.6,546.1h.5M206.0,545.4h.5M173.3,530.1h.5M215.4,536.2h.5M213.4,518.3h.5M193.6,522.8h.5M197.0,533.7h.5M172.6,521.8h.5M184.9,545.2h.5M207.2,519.8h.5M208.7,519.1h.5M200.4,518.7h.5M172.1,543.7h.5M181.6,521.7h.5M217.2,543.7h.5M185.3,546.7h.5M196.8,537.2h.5M181.4,546.0h.5M203.8,546.9h.5M213.1,524.5h.5M188.6,520.1h.5M178.7,516.7h.5M185.9,534.7h.5M172.2,537.2h.5M187.5,524.9h.5M209.7,530.6h.5M186.5,530.6h.5M204.4,516.4h.5M216.9,515.3h.5M206.5,542.8h.5M172.8,540.9h.5M188.8,533.9h.5M172.4,516.1h.5M180.3,546.5h.5M181.0,539.8h.5M214.8,546.1h.5M187.8,526.4h.5M196.1,540.5h.5M177.0,539.6h.5M208.7,543.3h.5M173.7,546.2h.5M176.2,525.9h.5M200.1,545.3h.5M187.6,545.5h.5M197.1,525.0h.5M186.6,520.4h.5M175.6,519.5h.5M203.7,547.9h.5M179.4,516.1h.5M217.4,532.4h.5M190.7,522.5h.5M199.3,542.2h.5M193.0,528.6h.5M174.6,545.2h.5M173.5,531.0h.5M210.6,518.9h.5M205.7,546.3h.5M201.0,540.9h.5M176.9,529.1h.5M178.9,542.8h.5M185.6,529.7h.5M218.0,543.1h.5M216.9,529.7h.5M194.5,538.9h.5M194.0,524.2h.5M190.6,519.4h.5M189.3,547.6h.5M216.2,535.5h.5M195.0,525.8h.5M176.1,523.6h.5M208.0,543.6h.5M188.6,540.8h.5M207.6,537.8h.5M202.5,539.9h.5M188.7,538.1h.5M184.9,530.8h.5M207.4,537.6h.5M185.5,546.2h.5M201.9,534.0h.5M172.5,532.8h.5M183.5,537.0h.5M193.3,541.9h.5M201.8,541.2h.5M188.0,536.1h.5M205.9,542.2h.5M188.1,542.7h.5M212.0,537.6h.5M216.9,546.5h.5M195.8,532.2h.5M179.6,542.5h.5M215.1,530.5h.5M203.8,538.6h.5M205.6,520.3h.5M207.9,534.0h.5M202.6,528.6h.5M200.7,540.5h.5M201.3,538.6h.5M173.3,519.9h.5M192.3,536.3h.5M182.1,537.5h.5M201.0,515.9h.5M193.7,522.1h.5M174.5,519.0h.5M186.6,520.6h.5M180.9,515.7h.5M193.4,527.2h.5M200.1,534.3h.5M182.9,544.8h.5M172.0,528.1h.5M184.8,528.2h.5M177.3,542.4h.5M189.2,515.7h.5M200.2,517.7h.5M197.1,525.9h.5M198.7,546.6h.5M209.7,528.5h.5M209.4,536.0h.5M189.0,519.3h.5M199.4,533.4h.5" stroke="#5768a4" stroke-width="1.0" stroke-linecap="round" fill="none" opacity="0.7"/>
<path d="M210.9,527.2h.7M193.0,527.8h.7M197.2,530.9h.7M202.5,535.5h.7M194.7,529.0h.7M189.0,522.6h.7M192.8,535.1h.7M197.7,535.5h.7M202.3,530.1h.7M208.8,528.1h.7M193.5,528.6h.7M203.4,530.2h.7M192.8,533.4h.7M203.4,530.4h.7M195.6,537.1h.7M202.5,536.3h.7M192.7,532.6h.7M199.0,520.9h.7M203.8,531.6h.7M195.1,543.7h.7M197.8,527.0h.7M196.6,534.2h.7M201.6,530.7h.7M192.1,527.1h.7M192.4,525.1h.7M196.9,528.2h.7M197.3,526.4h.7M192.1,530.0h.7M195.0,537.5h.7M191.9,532.2h.7M196.8,523.7h.7M201.1,532.0h.7M185.2,534.4h.7M202.3,526.5h.7M206.5,531.9h.7M190.5,534.2h.7M195.0,523.5h.7M185.0,532.4h.7" stroke="#3f4f90" stroke-width="1.4" stroke-linecap="round" fill="none" opacity="0.8"/>
<rect x="328.40" y="513.10" width="47.90" height="35.90" fill="#8395c9" stroke="none" stroke-width="1" />
<rect x="328.40" y="513.10" width="47.90" height="35.90" fill="#000" stroke="none" stroke-width="1" filter="url(#tx3)" opacity="0.7"/>
<rect x="328.40" y="513.10" width="47.90" height="35.90" fill="#000" stroke="none" stroke-width="1" filter="url(#tx2)" opacity="0.7"/>
<rect x="328.40" y="513.10" width="47.90" height="35.90" fill="url(#lg2)" stroke="none" stroke-width="1" />
<rect x="328.40" y="513.10" width="47.90" height="35.90" fill="url(#lg3)" stroke="none" stroke-width="1" />
<circle cx="365.0" cy="518.9" r="3.3" fill="#0e1238" opacity="0.8" filter="url(#bl2)"/>
<circle cx="344.7" cy="530.5" r="3.1" fill="#0e1238" opacity="0.8" filter="url(#bl2)"/>
<circle cx="366.5" cy="531.4" r="2.6" fill="#0e1238" opacity="0.8" filter="url(#bl2)"/>
<circle cx="339.0" cy="535.8" r="2.3" fill="#0e1238" opacity="0.8" filter="url(#bl2)"/>
<circle cx="333.0" cy="521.5" r="2.0" fill="#0e1238" opacity="0.8" filter="url(#bl2)"/>
<circle cx="346.0" cy="544.5" r="2.0" fill="#0e1238" opacity="0.8" filter="url(#bl2)"/>
<circle cx="372.0" cy="539.5" r="1.4" fill="#0e1238" opacity="0.8" filter="url(#bl2)"/>
<circle cx="354.0" cy="520.0" r="1.6" fill="#0e1238" opacity="0.8" filter="url(#bl2)"/>
<path d="M374.3,519.6 L370.4,517.6 L370.4,521.6 Z" fill="#ff0a1a" stroke="none" stroke-width="1" />
<path d="M353.6,529.1 L349.7,527.1 L349.7,531.1 Z" fill="#ff0a1a" stroke="none" stroke-width="1" />
<path d="M374.2,531.5 L370.3,529.5 L370.3,533.5 Z" fill="#ff0a1a" stroke="none" stroke-width="1" />
</g>
<g id="panelF">
<text transform="translate(11.30,586.67) scale(0.97,1)" x="0" y="0" font-size="11.3" text-anchor="middle" fill="#000" font-weight="bold" >F</text>
<text x="82.00" y="584.15" font-size="6.8" text-anchor="middle" fill="#000" font-weight="normal"  textLength="36.20" lengthAdjust="spacingAndGlyphs">p= 0.0572</text>
<path d="M64.5,588.9 L64.5,586.2 L100.0,586.2 L100.0,597.0" fill="none" stroke="#000" stroke-width="0.9" />
<path d="M100.0,602.6 L97.7,596.2 L102.3,596.2 Z" fill="#000" stroke="none" stroke-width="1" />
<line x1="82.20" y1="597.89" x2="82.20" y2="593.00" stroke="#000" stroke-width="1.2" />
<line x1="78.80" y1="593.00" x2="85.50" y2="593.00" stroke="#000" stroke-width="1.1" />
<line x1="99.40" y1="612.55" x2="99.40" y2="607.17" stroke="#000" stroke-width="1.2" />
<line x1="96.20" y1="607.17" x2="102.80" y2="607.17" stroke="#000" stroke-width="1.1" />
<rect x="58.80" y="593.00" width="12.10" height="73.30" fill="#c9001d" stroke="none" stroke-width="1" />
<rect x="76.30" y="597.89" width="12.10" height="68.41" fill="#0033b4" stroke="none" stroke-width="1" />
<rect x="93.30" y="612.55" width="12.20" height="53.75" fill="#33ff00" stroke="none" stroke-width="1" />
<line x1="56.40" y1="588.20" x2="56.40" y2="666.90" stroke="#000" stroke-width="1.2" />
<line x1="55.80" y1="666.30" x2="108.30" y2="666.30" stroke="#000" stroke-width="1.2" />
<line x1="53.40" y1="666.30" x2="56.40" y2="666.30" stroke="#000" stroke-width="0.9" />
<text x="49.60" y="668.75" font-size="6.8" text-anchor="end" fill="#000" font-weight="normal"  textLength="4.20" lengthAdjust="spacingAndGlyphs">0</text>
<line x1="53.40" y1="641.87" x2="56.40" y2="641.87" stroke="#000" stroke-width="0.9" />
<text x="49.60" y="644.31" font-size="6.8" text-anchor="end" fill="#000" font-weight="normal"  textLength="4.20" lengthAdjust="spacingAndGlyphs">5</text>
<line x1="53.40" y1="617.43" x2="56.40" y2="617.43" stroke="#000" stroke-width="0.9" />
<text x="49.60" y="619.88" font-size="6.8" text-anchor="end" fill="#000" font-weight="normal"  textLength="8.40" lengthAdjust="spacingAndGlyphs">10</text>
<line x1="53.40" y1="593.00" x2="56.40" y2="593.00" stroke="#000" stroke-width="0.9" />
<text x="49.60" y="595.45" font-size="6.8" text-anchor="end" fill="#000" font-weight="normal"  textLength="8.40" lengthAdjust="spacingAndGlyphs">15</text>
<text x="62.60" y="677.45" font-size="6.8" text-anchor="middle" fill="#000" font-weight="normal"  textLength="10.50" lengthAdjust="spacingAndGlyphs">HR</text>
<text x="80.20" y="677.45" font-size="6.8" text-anchor="middle" fill="#000" font-weight="normal"  textLength="7.00" lengthAdjust="spacingAndGlyphs">IR</text>
<text x="97.60" y="677.45" font-size="6.8" text-anchor="middle" fill="#000" font-weight="normal"  textLength="10.00" lengthAdjust="spacingAndGlyphs">FR</text>
<text transform="translate(23.30,632.30) rotate(-90)" x="0" y="3.38" font-size="9.4" text-anchor="middle" fill="#000" font-weight="normal" stroke="#000" stroke-width="0.18" textLength="65.80" lengthAdjust="spacingAndGlyphs">Number of wells plated</text>
<text transform="translate(34.50,631.90) rotate(-90)" x="0" y="3.38" font-size="9.4" text-anchor="middle" fill="#000" font-weight="normal" stroke="#000" stroke-width="0.18" textLength="78.70" lengthAdjust="spacingAndGlyphs">with 250 cells showing CAs</text>
</g>
<g id="panelG">
<text transform="translate(177.00,585.74) scale(0.95,1)" x="0" y="0" font-size="11.5" text-anchor="middle" fill="#000" font-weight="bold" >G</text>
<text x="199.00" y="601.58" font-size="6.6" text-anchor="middle" fill="#000" font-weight="normal"  textLength="15.00" lengthAdjust="spacingAndGlyphs">AML</text>
<text x="199.00" y="610.88" font-size="6.6" text-anchor="middle" fill="#000" font-weight="normal"  textLength="33.50" lengthAdjust="spacingAndGlyphs">risk group</text>
<text x="260.00" y="601.58" font-size="6.6" text-anchor="middle" fill="#000" font-weight="normal"  textLength="46.50" lengthAdjust="spacingAndGlyphs">LIC frequency</text>
<text x="260.00" y="610.88" font-size="6.6" text-anchor="middle" fill="#000" font-weight="normal"  textLength="23.00" lengthAdjust="spacingAndGlyphs">(range)</text>
<rect x="181.50" y="614.40" width="114.80" height="8.40" fill="#c1ccd8" stroke="none" stroke-width="1" />
<rect x="181.50" y="632.30" width="114.80" height="8.00" fill="#c1ccd8" stroke="none" stroke-width="1" />
<line x1="181.50" y1="614.10" x2="296.30" y2="614.10" stroke="#000" stroke-width="1.2" />
<line x1="181.50" y1="622.90" x2="296.30" y2="622.90" stroke="#555" stroke-width="0.5" />
<line x1="181.50" y1="631.90" x2="296.30" y2="631.90" stroke="#555" stroke-width="0.5" />
<line x1="181.50" y1="640.60" x2="296.30" y2="640.60" stroke="#000" stroke-width="1.1" />
<text x="199.00" y="620.70" font-size="6.4" text-anchor="middle" fill="#000" font-weight="normal"  textLength="10.00" lengthAdjust="spacingAndGlyphs">HR</text>
<text x="255.60" y="620.88" font-size="6.6" text-anchor="middle" fill="#000" font-weight="normal"  textLength="64.60" lengthAdjust="spacingAndGlyphs">15198 (31771-7270)</text>
<text x="199.00" y="629.80" font-size="6.4" text-anchor="middle" fill="#000" font-weight="normal"  textLength="6.60" lengthAdjust="spacingAndGlyphs">IR</text>
<text x="255.60" y="629.98" font-size="6.6" text-anchor="middle" fill="#000" font-weight="normal"  textLength="74.00" lengthAdjust="spacingAndGlyphs">36491 (112644-11822)</text>
<text x="199.00" y="638.70" font-size="6.4" text-anchor="middle" fill="#000" font-weight="normal"  textLength="9.60" lengthAdjust="spacingAndGlyphs">FR</text>
<text x="255.40" y="638.70" font-size="6.4" text-anchor="middle" fill="#000" font-weight="normal"  textLength="9.50" lengthAdjust="spacingAndGlyphs">ND</text>
<clipPath id="gclip"><rect x="344.0" y="587.0" width="85.5" height="77.29999999999995"/></clipPath>
<g clip-path="url(#gclip)">
<line x1="344.00" y1="588.90" x2="429.50" y2="630.71" stroke="#cc1122" stroke-width="1.6" stroke-dasharray="5,2.6"/>
<line x1="344.00" y1="588.90" x2="425.90" y2="615.54" stroke="#cc1122" stroke-width="1.6" stroke-dasharray="5,2.6"/>
<line x1="344.00" y1="588.90" x2="429.50" y2="599.09" stroke="#cc1122" stroke-width="1.6" stroke-dasharray="5,2.6"/>
<line x1="344.00" y1="588.90" x2="429.50" y2="609.44" stroke="#cc1122" stroke-width="1.9" />
<line x1="344.00" y1="589.50" x2="429.50" y2="599.66" stroke="#33ee22" stroke-width="1.6" stroke-dasharray="5,2.6"/>
<line x1="344.00" y1="589.30" x2="429.50" y2="592.29" stroke="#33ee22" stroke-width="1.6" stroke-dasharray="5,2.6"/>
<line x1="344.00" y1="589.40" x2="429.50" y2="598.81" stroke="#1133cc" stroke-width="1.6" stroke-dasharray="5,2.6" stroke-dashoffset="3.5"/>
<line x1="344.00" y1="590.30" x2="429.50" y2="590.30" stroke="#1133cc" stroke-width="2.1" />
<line x1="425.90" y1="603.80" x2="425.90" y2="606.90" stroke="#33ee22" stroke-width="1.3" />
<path d="M424.0,613.6 L427.8,613.6 M425.9,613.6 L425.9,617.5" fill="none" stroke="#cc1122" stroke-width="1.2" />
</g>
<rect x="344.00" y="587.00" width="85.50" height="77.30" fill="none" stroke="#000" stroke-width="1.7" />
<line x1="341.00" y1="590.30" x2="344.00" y2="590.30" stroke="#000" stroke-width="1.0" />
<text x="339.00" y="592.82" font-size="7.0" text-anchor="end" fill="#000" font-weight="normal"  textLength="11.20" lengthAdjust="spacingAndGlyphs">0.0</text>
<line x1="341.00" y1="604.50" x2="344.00" y2="604.50" stroke="#000" stroke-width="1.0" />
<text x="339.00" y="607.02" font-size="7.0" text-anchor="end" fill="#000" font-weight="normal"  textLength="15.80" lengthAdjust="spacingAndGlyphs">&#8722;0.1</text>
<line x1="341.00" y1="618.60" x2="344.00" y2="618.60" stroke="#000" stroke-width="1.0" />
<text x="339.00" y="621.12" font-size="7.0" text-anchor="end" fill="#000" font-weight="normal"  textLength="15.80" lengthAdjust="spacingAndGlyphs">&#8722;0.2</text>
<line x1="341.00" y1="632.80" x2="344.00" y2="632.80" stroke="#000" stroke-width="1.0" />
<text x="339.00" y="635.32" font-size="7.0" text-anchor="end" fill="#000" font-weight="normal"  textLength="15.80" lengthAdjust="spacingAndGlyphs">&#8722;0.3</text>
<line x1="341.00" y1="647.00" x2="344.00" y2="647.00" stroke="#000" stroke-width="1.0" />
<text x="339.00" y="649.52" font-size="7.0" text-anchor="end" fill="#000" font-weight="normal"  textLength="15.80" lengthAdjust="spacingAndGlyphs">&#8722;0.4</text>
<line x1="341.00" y1="661.20" x2="344.00" y2="661.20" stroke="#000" stroke-width="1.0" />
<text x="339.00" y="663.72" font-size="7.0" text-anchor="end" fill="#000" font-weight="normal"  textLength="15.80" lengthAdjust="spacingAndGlyphs">&#8722;0.5</text>
<line x1="347.00" y1="664.30" x2="347.00" y2="666.90" stroke="#000" stroke-width="0.9" />
<text x="347.00" y="674.85" font-size="6.8" text-anchor="middle" fill="#000" font-weight="normal"  textLength="3.80" lengthAdjust="spacingAndGlyphs">0</text>
<line x1="366.60" y1="664.30" x2="366.60" y2="666.90" stroke="#000" stroke-width="0.9" />
<text x="367.20" y="674.85" font-size="6.8" text-anchor="middle" fill="#000" font-weight="normal"  textLength="11.40" lengthAdjust="spacingAndGlyphs">500</text>
<line x1="386.30" y1="664.30" x2="386.30" y2="666.90" stroke="#000" stroke-width="0.9" />
<text x="386.90" y="674.85" font-size="6.8" text-anchor="middle" fill="#000" font-weight="normal"  textLength="15.20" lengthAdjust="spacingAndGlyphs">1000</text>
<line x1="406.10" y1="664.30" x2="406.10" y2="666.90" stroke="#000" stroke-width="0.9" />
<text x="406.70" y="674.85" font-size="6.8" text-anchor="middle" fill="#000" font-weight="normal"  textLength="15.20" lengthAdjust="spacingAndGlyphs">1500</text>
<line x1="425.90" y1="664.30" x2="425.90" y2="666.90" stroke="#000" stroke-width="0.9" />
<text x="426.50" y="674.85" font-size="6.8" text-anchor="middle" fill="#000" font-weight="normal"  textLength="15.20" lengthAdjust="spacingAndGlyphs">2000</text>
<text x="386.20" y="685.72" font-size="8.4" text-anchor="middle" fill="#000" font-weight="normal" stroke="#000" stroke-width="0.15" textLength="64.60" lengthAdjust="spacingAndGlyphs">Dose (number of cells)</text>
<text transform="translate(316.20,625.60) rotate(-90)" x="0" y="3.10" font-size="8.6" text-anchor="middle" fill="#000" font-weight="normal" stroke="#000" stroke-width="0.15" textLength="77.00" lengthAdjust="spacingAndGlyphs">Log fraction nonresponding</text>
<text x="347.00" y="647.43" font-size="6.2" text-anchor="start" fill="#cc1122" font-weight="normal"  textLength="26.80" lengthAdjust="spacingAndGlyphs">Group HR</text>
<text x="347.00" y="654.33" font-size="6.2" text-anchor="start" fill="#1133cc" font-weight="normal"  textLength="24.20" lengthAdjust="spacingAndGlyphs">Group IR</text>
<text x="347.00" y="660.73" font-size="6.2" text-anchor="start" fill="#33ee22" font-weight="normal"  textLength="24.20" lengthAdjust="spacingAndGlyphs">Group IR</text>
</g>
<rect x="0" y="0" width="520" height="1.2" fill="#000"/>
<rect x="0" y="0" width="1.2" height="693" fill="#000"/>
<rect x="518.75" y="0" width="1.25" height="693" fill="#000"/>
<rect x="0" y="691.7" width="520" height="1.3" fill="#000"/>
</svg>
</body></html>
